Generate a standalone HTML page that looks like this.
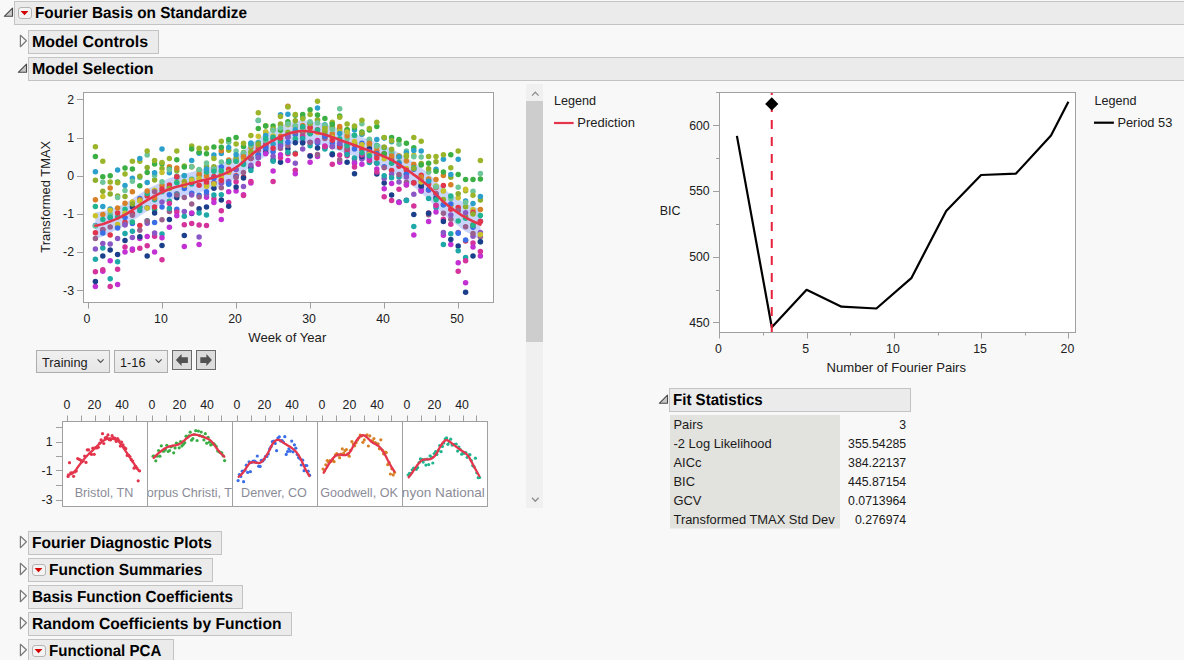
<!DOCTYPE html>
<html><head><meta charset="utf-8"><title>Fourier Basis on Standardize</title>
<style>html,body{margin:0;padding:0;background:#f8f8f8;overflow:hidden;width:1184px;height:660px} svg{display:block}</style>
</head><body>
<svg width="1184" height="660" viewBox="0 0 1184 660" font-family="'Liberation Sans', Arial, sans-serif">
<rect width="1184" height="660" fill="#f8f8f8"/>
<defs>
<clipPath id="pclip"><rect x="84" y="93" width="409" height="209"/></clipPath>
<linearGradient id="cg" x1="0" y1="0" x2="0" y2="1"><stop offset="0" stop-color="#f0f0f0"/><stop offset="1" stop-color="#e6e6e6"/></linearGradient>
</defs>
<rect x="14.5" y="1.5" width="1171" height="23" fill="#ebebeb" stroke="#c3c3c3"/>
<path d="M4.300000000000001 16.3 L12.5 8.1 L12.5 16.3 Z" fill="#c8c8c8" stroke="#4a4a4a" stroke-width="1.1" stroke-linejoin="round"/>
<rect x="18.5" y="7.5" width="13" height="11" rx="2.5" fill="#f3f3f3" stroke="#b4b4b4"/>
<path d="M20.6 11 L28.4 11 L24.5 15.2 Z" fill="#d40000"/>
<text x="35" y="18" font-size="16" font-weight="bold" fill="#000" text-rendering="geometricPrecision" textLength="212" lengthAdjust="spacingAndGlyphs">Fourier Basis on Standardize</text>
<rect x="28.5" y="30.5" width="130" height="23" fill="#ebebeb" stroke="#c3c3c3"/>
<path d="M20.4 35.3 L26.4 40.8 L20.4 46.7 Z" fill="#f8f8f8" stroke="#7a7a7a" stroke-width="1.2" stroke-linejoin="round"/>
<text x="32" y="47" font-size="16" font-weight="bold" fill="#000" text-rendering="geometricPrecision" textLength="116" lengthAdjust="spacingAndGlyphs">Model Controls</text>
<rect x="28.5" y="57.5" width="1157" height="23" fill="#ebebeb" stroke="#c3c3c3"/>
<path d="M18.3 72.3 L26.5 64.1 L26.5 72.3 Z" fill="#c8c8c8" stroke="#4a4a4a" stroke-width="1.1" stroke-linejoin="round"/>
<text x="32" y="74" font-size="16" font-weight="bold" fill="#000" text-rendering="geometricPrecision" textLength="121.6" lengthAdjust="spacingAndGlyphs">Model Selection</text>
<rect x="83.5" y="92.5" width="410" height="210" fill="#fff" stroke="#a0a0a0"/>
<line x1="77" y1="99.5" x2="83" y2="99.5" stroke="#a0a0a0"/>
<text x="74" y="103.6" font-size="12.3" text-anchor="end" fill="#202020">2</text>
<line x1="77" y1="138.5" x2="83" y2="138.5" stroke="#a0a0a0"/>
<text x="74" y="141.8" font-size="12.3" text-anchor="end" fill="#202020">1</text>
<line x1="77" y1="176.5" x2="83" y2="176.5" stroke="#a0a0a0"/>
<text x="74" y="180.0" font-size="12.3" text-anchor="end" fill="#202020">0</text>
<line x1="77" y1="214.5" x2="83" y2="214.5" stroke="#a0a0a0"/>
<text x="74" y="218.2" font-size="12.3" text-anchor="end" fill="#202020">-1</text>
<line x1="77" y1="252.5" x2="83" y2="252.5" stroke="#a0a0a0"/>
<text x="74" y="256.4" font-size="12.3" text-anchor="end" fill="#202020">-2</text>
<line x1="77" y1="290.5" x2="83" y2="290.5" stroke="#a0a0a0"/>
<text x="74" y="294.6" font-size="12.3" text-anchor="end" fill="#202020">-3</text>
<line x1="88.5" y1="303" x2="88.5" y2="308.5" stroke="#a0a0a0"/>
<text x="86.9" y="322.8" font-size="12.3" text-anchor="middle" fill="#202020">0</text>
<line x1="162.5" y1="303" x2="162.5" y2="308.5" stroke="#a0a0a0"/>
<text x="160.9" y="322.8" font-size="12.3" text-anchor="middle" fill="#202020">10</text>
<line x1="236.5" y1="303" x2="236.5" y2="308.5" stroke="#a0a0a0"/>
<text x="235.0" y="322.8" font-size="12.3" text-anchor="middle" fill="#202020">20</text>
<line x1="310.5" y1="303" x2="310.5" y2="308.5" stroke="#a0a0a0"/>
<text x="309.0" y="322.8" font-size="12.3" text-anchor="middle" fill="#202020">30</text>
<line x1="384.5" y1="303" x2="384.5" y2="308.5" stroke="#a0a0a0"/>
<text x="383.1" y="322.8" font-size="12.3" text-anchor="middle" fill="#202020">40</text>
<line x1="458.5" y1="303" x2="458.5" y2="308.5" stroke="#a0a0a0"/>
<text x="457.1" y="322.8" font-size="12.3" text-anchor="middle" fill="#202020">50</text>
<text x="287.3" y="341.8" font-size="13.15" text-anchor="middle" fill="#202020">Week of Year</text>
<text transform="translate(50.1 196.8) rotate(-90)" font-size="12.9" text-anchor="middle" fill="#202020">Transformed TMAX</text>
<g clip-path="url(#pclip)">
<path d="M95.4 212.4 L99.1 211.8 L102.8 211.2 L106.5 210.5 L110.2 209.3 L113.9 208.1 L117.6 206.8 L121.3 205.2 L125.0 203.6 L128.7 201.2 L132.4 198.7 L136.1 196.3 L139.8 193.9 L143.5 191.5 L147.2 189.1 L150.9 187.2 L154.6 185.4 L158.3 183.5 L162.0 181.7 L165.7 179.8 L169.4 178.0 L173.1 177.0 L176.8 176.0 L180.6 175.0 L184.3 174.1 L188.0 173.1 L191.7 172.1 L195.4 171.1 L199.1 170.1 L202.8 169.1 L206.5 168.1 L210.2 167.1 L213.9 166.1 L217.6 165.0 L221.3 163.9 L225.0 161.9 L228.7 160.0 L232.4 158.1 L236.1 156.2 L239.8 153.4 L243.5 150.3 L247.2 147.2 L250.9 144.1 L254.6 141.3 L258.3 138.8 L262.0 136.3 L265.7 133.8 L269.4 131.4 L273.1 129.7 L276.8 127.9 L280.5 126.1 L284.2 124.4 L287.9 122.8 L291.6 122.2 L295.3 121.5 L299.0 120.8 L302.7 120.1 L306.4 120.4 L310.1 121.0 L313.8 121.6 L317.5 122.2 L321.2 122.7 L324.9 123.8 L328.6 125.1 L332.3 126.3 L336.0 127.6 L339.7 128.9 L343.4 130.2 L347.1 131.5 L350.8 132.9 L354.5 134.2 L358.2 135.6 L361.9 137.0 L365.6 138.3 L369.4 139.7 L373.1 141.0 L376.8 142.6 L380.5 144.2 L384.2 145.8 L387.9 147.3 L391.6 148.7 L395.3 150.8 L399.0 153.1 L402.7 155.3 L406.4 157.6 L410.1 159.9 L413.8 162.4 L417.5 165.1 L421.2 167.8 L424.9 170.5 L428.6 173.4 L432.3 177.2 L436.0 181.0 L439.7 184.9 L443.4 188.7 L447.1 191.4 L450.8 194.1 L454.5 196.6 L458.2 199.0 L461.9 201.4 L465.6 203.1 L469.3 204.7 L473.0 206.2 L476.7 207.8 L480.4 209.3 L480.4 239.9 L476.7 237.8 L473.0 235.6 L469.3 233.5 L465.6 231.4 L461.9 229.1 L458.2 226.1 L454.5 223.1 L450.8 220.1 L447.1 217.4 L443.4 214.7 L439.7 210.8 L436.0 207.0 L432.3 203.2 L428.6 199.4 L424.9 196.2 L421.2 193.1 L417.5 190.1 L413.8 187.1 L410.1 184.2 L406.4 181.7 L402.7 179.1 L399.0 176.5 L395.3 173.9 L391.6 171.5 L387.9 169.7 L384.2 168.0 L380.5 166.4 L376.8 164.8 L373.1 163.2 L369.4 161.8 L365.6 160.5 L361.9 159.1 L358.2 157.7 L354.5 156.4 L350.8 155.0 L347.1 153.7 L343.4 152.4 L339.7 151.1 L336.0 149.8 L332.3 148.5 L328.6 147.2 L324.9 145.9 L321.2 144.9 L317.5 144.3 L313.8 143.7 L310.1 143.1 L306.4 142.6 L302.7 142.2 L299.0 142.9 L295.3 143.6 L291.6 144.3 L287.9 145.0 L284.2 146.5 L280.5 148.3 L276.8 150.1 L273.1 151.8 L269.4 153.6 L265.7 155.9 L262.0 158.5 L258.3 161.0 L254.6 163.5 L250.9 166.2 L247.2 169.3 L243.5 172.4 L239.8 175.5 L236.1 178.4 L232.4 180.3 L228.7 182.2 L225.0 184.1 L221.3 186.0 L217.6 187.2 L213.9 188.2 L210.2 189.2 L206.5 190.2 L202.8 191.2 L199.1 192.3 L195.4 193.3 L191.7 194.3 L188.0 195.2 L184.3 196.2 L180.6 197.2 L176.8 198.2 L173.1 199.2 L169.4 200.1 L165.7 202.0 L162.0 203.8 L158.3 205.7 L154.6 207.5 L150.9 209.4 L147.2 211.2 L143.5 213.6 L139.8 216.1 L136.1 218.5 L132.4 220.9 L128.7 223.3 L125.0 225.7 L121.3 227.4 L117.6 229.0 L113.9 231.0 L110.2 233.0 L106.5 235.0 L102.8 236.4 L99.1 237.8 L95.4 239.1 Z" fill="#c9d5fb"/>
<circle cx="206.5" cy="184.0" r="2.75" fill="#9a5f8c"/>
<circle cx="184.3" cy="197.6" r="2.75" fill="#9a5f8c"/>
<circle cx="102.8" cy="271.2" r="2.75" fill="#c331d4"/>
<circle cx="332.3" cy="146.8" r="2.75" fill="#9a5f8c"/>
<circle cx="206.5" cy="197.2" r="2.75" fill="#c331d4"/>
<circle cx="102.8" cy="214.4" r="2.75" fill="#d88028"/>
<circle cx="250.9" cy="135.6" r="2.75" fill="#9bb52a"/>
<circle cx="184.3" cy="181.4" r="2.75" fill="#8fae2b"/>
<circle cx="302.7" cy="116.9" r="2.75" fill="#8fae2b"/>
<circle cx="347.1" cy="152.8" r="2.75" fill="#c331d4"/>
<circle cx="391.6" cy="153.6" r="2.75" fill="#3a6ee6"/>
<circle cx="399.0" cy="140.8" r="2.75" fill="#9bb52a"/>
<circle cx="265.7" cy="150.1" r="2.75" fill="#d4339c"/>
<circle cx="465.6" cy="216.8" r="2.75" fill="#d88028"/>
<circle cx="391.6" cy="200.5" r="2.75" fill="#d4339c"/>
<circle cx="450.8" cy="198.7" r="2.75" fill="#6dc59a"/>
<circle cx="236.1" cy="158.3" r="2.75" fill="#8fae2b"/>
<circle cx="376.8" cy="173.9" r="2.75" fill="#1b3f8a"/>
<circle cx="369.4" cy="148.1" r="2.75" fill="#e0354c"/>
<circle cx="221.3" cy="210.7" r="2.75" fill="#d4339c"/>
<circle cx="450.8" cy="177.3" r="2.75" fill="#8fae2b"/>
<circle cx="361.9" cy="123.8" r="2.75" fill="#6dc59a"/>
<circle cx="273.1" cy="138.2" r="2.75" fill="#8fae2b"/>
<circle cx="258.3" cy="164.2" r="2.75" fill="#c331d4"/>
<circle cx="339.7" cy="147.5" r="2.75" fill="#1ea8a8"/>
<circle cx="465.6" cy="206.7" r="2.75" fill="#8fae2b"/>
<circle cx="243.5" cy="186.4" r="2.75" fill="#8a58c6"/>
<circle cx="354.5" cy="130.1" r="2.75" fill="#2ba0cb"/>
<circle cx="184.3" cy="246.4" r="2.75" fill="#c331d4"/>
<circle cx="436.0" cy="197.9" r="2.75" fill="#1b3f8a"/>
<circle cx="465.6" cy="190.8" r="2.75" fill="#9bb52a"/>
<circle cx="250.9" cy="158.1" r="2.75" fill="#3a6ee6"/>
<circle cx="125.0" cy="174.0" r="2.75" fill="#9bb52a"/>
<circle cx="310.1" cy="123.6" r="2.75" fill="#2ba0cb"/>
<circle cx="310.1" cy="162.3" r="2.75" fill="#c331d4"/>
<circle cx="436.0" cy="207.7" r="2.75" fill="#1ea8a8"/>
<circle cx="206.5" cy="207.1" r="2.75" fill="#1b3f8a"/>
<circle cx="391.6" cy="137.5" r="2.75" fill="#3baf44"/>
<circle cx="317.5" cy="119.9" r="2.75" fill="#d88028"/>
<circle cx="139.8" cy="177.5" r="2.75" fill="#6dc59a"/>
<circle cx="228.7" cy="162.3" r="2.75" fill="#8fae2b"/>
<circle cx="117.6" cy="261.7" r="2.75" fill="#1ea8a8"/>
<circle cx="132.4" cy="250.2" r="2.75" fill="#d4339c"/>
<circle cx="450.8" cy="209.2" r="2.75" fill="#e0354c"/>
<circle cx="265.7" cy="145.1" r="2.75" fill="#d88028"/>
<circle cx="184.3" cy="185.3" r="2.75" fill="#22b48f"/>
<circle cx="154.6" cy="190.3" r="2.75" fill="#c8c02c"/>
<circle cx="280.5" cy="125.2" r="2.75" fill="#c8c02c"/>
<circle cx="384.2" cy="154.5" r="2.75" fill="#d88028"/>
<circle cx="169.4" cy="201.2" r="2.75" fill="#22b48f"/>
<circle cx="458.2" cy="209.9" r="2.75" fill="#d88028"/>
<circle cx="332.3" cy="154.8" r="2.75" fill="#c331d4"/>
<circle cx="391.6" cy="157.3" r="2.75" fill="#c8c02c"/>
<circle cx="399.0" cy="144.3" r="2.75" fill="#6dc59a"/>
<circle cx="287.9" cy="114.3" r="2.75" fill="#2ba0cb"/>
<circle cx="443.4" cy="204.8" r="2.75" fill="#22b48f"/>
<circle cx="384.2" cy="147.7" r="2.75" fill="#22b48f"/>
<circle cx="473.0" cy="191.2" r="2.75" fill="#6dc59a"/>
<circle cx="206.5" cy="175.9" r="2.75" fill="#d88028"/>
<circle cx="265.7" cy="148.3" r="2.75" fill="#1ea8a8"/>
<circle cx="302.7" cy="130.7" r="2.75" fill="#3a6ee6"/>
<circle cx="473.0" cy="209.7" r="2.75" fill="#c8c02c"/>
<circle cx="421.2" cy="175.2" r="2.75" fill="#e0354c"/>
<circle cx="184.3" cy="224.8" r="2.75" fill="#d4339c"/>
<circle cx="287.9" cy="153.8" r="2.75" fill="#d4339c"/>
<circle cx="391.6" cy="183.4" r="2.75" fill="#c331d4"/>
<circle cx="236.1" cy="150.9" r="2.75" fill="#6dc59a"/>
<circle cx="280.5" cy="162.3" r="2.75" fill="#1b3f8a"/>
<circle cx="221.3" cy="162.1" r="2.75" fill="#6dc59a"/>
<circle cx="132.4" cy="213.5" r="2.75" fill="#e0354c"/>
<circle cx="399.0" cy="139.4" r="2.75" fill="#3baf44"/>
<circle cx="458.2" cy="220.9" r="2.75" fill="#22b48f"/>
<circle cx="221.3" cy="167.0" r="2.75" fill="#3a6ee6"/>
<circle cx="102.8" cy="248.0" r="2.75" fill="#1ea8a8"/>
<circle cx="147.2" cy="155.0" r="2.75" fill="#6dc59a"/>
<circle cx="361.9" cy="149.5" r="2.75" fill="#e0354c"/>
<circle cx="169.4" cy="158.5" r="2.75" fill="#9bb52a"/>
<circle cx="406.4" cy="150.9" r="2.75" fill="#6dc59a"/>
<circle cx="354.5" cy="135.6" r="2.75" fill="#6dc59a"/>
<circle cx="250.9" cy="147.3" r="2.75" fill="#d88028"/>
<circle cx="480.4" cy="236.7" r="2.75" fill="#9a5f8c"/>
<circle cx="236.1" cy="169.4" r="2.75" fill="#1ea8a8"/>
<circle cx="125.0" cy="233.5" r="2.75" fill="#1ea8a8"/>
<circle cx="317.5" cy="143.3" r="2.75" fill="#3a6ee6"/>
<circle cx="139.8" cy="161.3" r="2.75" fill="#9bb52a"/>
<circle cx="339.7" cy="128.8" r="2.75" fill="#8fae2b"/>
<circle cx="302.7" cy="142.1" r="2.75" fill="#c331d4"/>
<circle cx="369.4" cy="162.4" r="2.75" fill="#1ea8a8"/>
<circle cx="191.7" cy="193.3" r="2.75" fill="#3a6ee6"/>
<circle cx="436.0" cy="193.9" r="2.75" fill="#3a6ee6"/>
<circle cx="317.5" cy="132.4" r="2.75" fill="#c8c02c"/>
<circle cx="117.6" cy="195.9" r="2.75" fill="#8fae2b"/>
<circle cx="399.0" cy="162.4" r="2.75" fill="#22b48f"/>
<circle cx="354.5" cy="127.4" r="2.75" fill="#3baf44"/>
<circle cx="421.2" cy="190.9" r="2.75" fill="#1ea8a8"/>
<circle cx="250.9" cy="145.8" r="2.75" fill="#6dc59a"/>
<circle cx="369.4" cy="153.1" r="2.75" fill="#8a58c6"/>
<circle cx="125.0" cy="240.6" r="2.75" fill="#1b3f8a"/>
<circle cx="184.3" cy="188.5" r="2.75" fill="#3a6ee6"/>
<circle cx="191.7" cy="166.7" r="2.75" fill="#8fae2b"/>
<circle cx="295.3" cy="170.3" r="2.75" fill="#d4339c"/>
<circle cx="176.8" cy="209.3" r="2.75" fill="#3a6ee6"/>
<circle cx="295.3" cy="133.5" r="2.75" fill="#c8c02c"/>
<circle cx="421.2" cy="185.0" r="2.75" fill="#3a6ee6"/>
<circle cx="421.2" cy="180.5" r="2.75" fill="#9a5f8c"/>
<circle cx="295.3" cy="134.5" r="2.75" fill="#3a6ee6"/>
<circle cx="465.6" cy="179.5" r="2.75" fill="#3baf44"/>
<circle cx="169.4" cy="211.4" r="2.75" fill="#9a5f8c"/>
<circle cx="213.9" cy="154.9" r="2.75" fill="#2ba0cb"/>
<circle cx="458.2" cy="197.7" r="2.75" fill="#c8c02c"/>
<circle cx="154.6" cy="199.8" r="2.75" fill="#1ea8a8"/>
<circle cx="117.6" cy="227.0" r="2.75" fill="#9a5f8c"/>
<circle cx="273.1" cy="144.0" r="2.75" fill="#2ba0cb"/>
<circle cx="339.7" cy="116.0" r="2.75" fill="#3baf44"/>
<circle cx="206.5" cy="153.7" r="2.75" fill="#3baf44"/>
<circle cx="228.7" cy="202.5" r="2.75" fill="#d4339c"/>
<circle cx="154.6" cy="236.2" r="2.75" fill="#d4339c"/>
<circle cx="354.5" cy="126.0" r="2.75" fill="#9bb52a"/>
<circle cx="406.4" cy="200.3" r="2.75" fill="#1b3f8a"/>
<circle cx="110.2" cy="208.9" r="2.75" fill="#2ba0cb"/>
<circle cx="287.9" cy="148.7" r="2.75" fill="#1b3f8a"/>
<circle cx="443.4" cy="175.6" r="2.75" fill="#d88028"/>
<circle cx="458.2" cy="246.0" r="2.75" fill="#1b3f8a"/>
<circle cx="317.5" cy="120.1" r="2.75" fill="#8fae2b"/>
<circle cx="406.4" cy="200.5" r="2.75" fill="#1ea8a8"/>
<circle cx="213.9" cy="198.9" r="2.75" fill="#d4339c"/>
<circle cx="250.9" cy="182.9" r="2.75" fill="#c331d4"/>
<circle cx="310.1" cy="142.3" r="2.75" fill="#8a58c6"/>
<circle cx="110.2" cy="235.1" r="2.75" fill="#e0354c"/>
<circle cx="199.1" cy="244.5" r="2.75" fill="#c331d4"/>
<circle cx="110.2" cy="175.7" r="2.75" fill="#3baf44"/>
<circle cx="347.1" cy="152.1" r="2.75" fill="#8a58c6"/>
<circle cx="147.2" cy="245.7" r="2.75" fill="#d4339c"/>
<circle cx="162.0" cy="191.8" r="2.75" fill="#22b48f"/>
<circle cx="162.0" cy="185.5" r="2.75" fill="#d88028"/>
<circle cx="162.0" cy="163.8" r="2.75" fill="#3baf44"/>
<circle cx="184.3" cy="175.4" r="2.75" fill="#6dc59a"/>
<circle cx="413.8" cy="182.5" r="2.75" fill="#9a5f8c"/>
<circle cx="384.2" cy="182.9" r="2.75" fill="#1b3f8a"/>
<circle cx="302.7" cy="133.9" r="2.75" fill="#c8c02c"/>
<circle cx="473.0" cy="255.9" r="2.75" fill="#1b3f8a"/>
<circle cx="125.0" cy="203.2" r="2.75" fill="#d88028"/>
<circle cx="443.4" cy="159.2" r="2.75" fill="#2ba0cb"/>
<circle cx="347.1" cy="162.3" r="2.75" fill="#1b3f8a"/>
<circle cx="206.5" cy="166.4" r="2.75" fill="#8fae2b"/>
<circle cx="221.3" cy="153.6" r="2.75" fill="#2ba0cb"/>
<circle cx="139.8" cy="238.6" r="2.75" fill="#c331d4"/>
<circle cx="287.9" cy="132.2" r="2.75" fill="#8fae2b"/>
<circle cx="465.6" cy="226.7" r="2.75" fill="#9a5f8c"/>
<circle cx="199.1" cy="170.2" r="2.75" fill="#8fae2b"/>
<circle cx="384.2" cy="196.7" r="2.75" fill="#d4339c"/>
<circle cx="324.9" cy="147.4" r="2.75" fill="#1b3f8a"/>
<circle cx="191.7" cy="166.7" r="2.75" fill="#d88028"/>
<circle cx="295.3" cy="153.3" r="2.75" fill="#1ea8a8"/>
<circle cx="384.2" cy="188.7" r="2.75" fill="#c331d4"/>
<circle cx="191.7" cy="213.4" r="2.75" fill="#1b3f8a"/>
<circle cx="206.5" cy="148.2" r="2.75" fill="#9bb52a"/>
<circle cx="347.1" cy="129.6" r="2.75" fill="#8fae2b"/>
<circle cx="428.6" cy="190.2" r="2.75" fill="#8a58c6"/>
<circle cx="236.1" cy="160.9" r="2.75" fill="#d88028"/>
<circle cx="295.3" cy="126.3" r="2.75" fill="#d88028"/>
<circle cx="480.4" cy="221.2" r="2.75" fill="#3a6ee6"/>
<circle cx="436.0" cy="205.3" r="2.75" fill="#8a58c6"/>
<circle cx="450.8" cy="244.5" r="2.75" fill="#c331d4"/>
<circle cx="265.7" cy="131.9" r="2.75" fill="#8fae2b"/>
<circle cx="213.9" cy="166.7" r="2.75" fill="#8fae2b"/>
<circle cx="102.8" cy="219.4" r="2.75" fill="#22b48f"/>
<circle cx="391.6" cy="159.4" r="2.75" fill="#9a5f8c"/>
<circle cx="206.5" cy="194.2" r="2.75" fill="#8a58c6"/>
<circle cx="450.8" cy="184.8" r="2.75" fill="#d88028"/>
<circle cx="295.3" cy="163.2" r="2.75" fill="#8a58c6"/>
<circle cx="199.1" cy="195.3" r="2.75" fill="#3a6ee6"/>
<circle cx="354.5" cy="159.1" r="2.75" fill="#9a5f8c"/>
<circle cx="228.7" cy="184.2" r="2.75" fill="#1ea8a8"/>
<circle cx="176.8" cy="182.0" r="2.75" fill="#c8c02c"/>
<circle cx="236.1" cy="175.8" r="2.75" fill="#e0354c"/>
<circle cx="458.2" cy="150.9" r="2.75" fill="#9bb52a"/>
<circle cx="139.8" cy="198.4" r="2.75" fill="#3a6ee6"/>
<circle cx="406.4" cy="168.4" r="2.75" fill="#c8c02c"/>
<circle cx="236.1" cy="161.1" r="2.75" fill="#c8c02c"/>
<circle cx="354.5" cy="157.9" r="2.75" fill="#1ea8a8"/>
<circle cx="280.5" cy="148.6" r="2.75" fill="#9a5f8c"/>
<circle cx="347.1" cy="155.7" r="2.75" fill="#d4339c"/>
<circle cx="243.5" cy="154.3" r="2.75" fill="#2ba0cb"/>
<circle cx="206.5" cy="215.1" r="2.75" fill="#1ea8a8"/>
<circle cx="258.3" cy="147.9" r="2.75" fill="#e0354c"/>
<circle cx="473.0" cy="236.3" r="2.75" fill="#8a58c6"/>
<circle cx="295.3" cy="132.1" r="2.75" fill="#9a5f8c"/>
<circle cx="169.4" cy="187.9" r="2.75" fill="#c8c02c"/>
<circle cx="147.2" cy="255.9" r="2.75" fill="#1b3f8a"/>
<circle cx="295.3" cy="125.8" r="2.75" fill="#6dc59a"/>
<circle cx="473.0" cy="179.5" r="2.75" fill="#3baf44"/>
<circle cx="443.4" cy="235.3" r="2.75" fill="#c331d4"/>
<circle cx="310.1" cy="155.8" r="2.75" fill="#d4339c"/>
<circle cx="302.7" cy="136.0" r="2.75" fill="#d4339c"/>
<circle cx="399.0" cy="157.0" r="2.75" fill="#8fae2b"/>
<circle cx="480.4" cy="160.4" r="2.75" fill="#9bb52a"/>
<circle cx="206.5" cy="172.1" r="2.75" fill="#22b48f"/>
<circle cx="280.5" cy="157.8" r="2.75" fill="#d4339c"/>
<circle cx="125.0" cy="222.3" r="2.75" fill="#e0354c"/>
<circle cx="125.0" cy="224.3" r="2.75" fill="#9a5f8c"/>
<circle cx="280.5" cy="114.7" r="2.75" fill="#2ba0cb"/>
<circle cx="413.8" cy="169.2" r="2.75" fill="#3a6ee6"/>
<circle cx="154.6" cy="164.0" r="2.75" fill="#3baf44"/>
<circle cx="132.4" cy="237.6" r="2.75" fill="#8a58c6"/>
<circle cx="317.5" cy="156.6" r="2.75" fill="#c331d4"/>
<circle cx="110.2" cy="214.2" r="2.75" fill="#6dc59a"/>
<circle cx="473.0" cy="227.2" r="2.75" fill="#3a6ee6"/>
<circle cx="95.4" cy="259.3" r="2.75" fill="#1ea8a8"/>
<circle cx="139.8" cy="210.5" r="2.75" fill="#1ea8a8"/>
<circle cx="354.5" cy="143.0" r="2.75" fill="#d88028"/>
<circle cx="199.1" cy="185.2" r="2.75" fill="#e0354c"/>
<circle cx="369.4" cy="153.9" r="2.75" fill="#9a5f8c"/>
<circle cx="324.9" cy="127.1" r="2.75" fill="#d88028"/>
<circle cx="384.2" cy="178.6" r="2.75" fill="#8a58c6"/>
<circle cx="199.1" cy="175.5" r="2.75" fill="#22b48f"/>
<circle cx="436.0" cy="187.5" r="2.75" fill="#e0354c"/>
<circle cx="473.0" cy="243.1" r="2.75" fill="#d4339c"/>
<circle cx="287.9" cy="160.4" r="2.75" fill="#c331d4"/>
<circle cx="347.1" cy="138.4" r="2.75" fill="#6dc59a"/>
<circle cx="287.9" cy="137.0" r="2.75" fill="#e0354c"/>
<circle cx="147.2" cy="196.1" r="2.75" fill="#e0354c"/>
<circle cx="250.9" cy="143.7" r="2.75" fill="#3baf44"/>
<circle cx="369.4" cy="144.4" r="2.75" fill="#8fae2b"/>
<circle cx="125.0" cy="185.5" r="2.75" fill="#2ba0cb"/>
<circle cx="199.1" cy="197.0" r="2.75" fill="#9a5f8c"/>
<circle cx="421.2" cy="189.4" r="2.75" fill="#d4339c"/>
<circle cx="265.7" cy="152.8" r="2.75" fill="#1b3f8a"/>
<circle cx="176.8" cy="197.7" r="2.75" fill="#1b3f8a"/>
<circle cx="295.3" cy="120.7" r="2.75" fill="#8fae2b"/>
<circle cx="428.6" cy="212.9" r="2.75" fill="#d4339c"/>
<circle cx="384.2" cy="153.7" r="2.75" fill="#e0354c"/>
<circle cx="428.6" cy="184.1" r="2.75" fill="#e0354c"/>
<circle cx="250.9" cy="181.4" r="2.75" fill="#d4339c"/>
<circle cx="162.0" cy="245.5" r="2.75" fill="#1b3f8a"/>
<circle cx="354.5" cy="135.2" r="2.75" fill="#22b48f"/>
<circle cx="228.7" cy="150.2" r="2.75" fill="#9bb52a"/>
<circle cx="406.4" cy="182.3" r="2.75" fill="#9a5f8c"/>
<circle cx="191.7" cy="184.1" r="2.75" fill="#1ea8a8"/>
<circle cx="206.5" cy="186.2" r="2.75" fill="#c8c02c"/>
<circle cx="221.3" cy="187.7" r="2.75" fill="#9a5f8c"/>
<circle cx="176.8" cy="170.7" r="2.75" fill="#8fae2b"/>
<circle cx="406.4" cy="152.7" r="2.75" fill="#2ba0cb"/>
<circle cx="176.8" cy="168.0" r="2.75" fill="#d88028"/>
<circle cx="443.4" cy="204.7" r="2.75" fill="#3a6ee6"/>
<circle cx="243.5" cy="152.6" r="2.75" fill="#8fae2b"/>
<circle cx="317.5" cy="129.8" r="2.75" fill="#e0354c"/>
<circle cx="287.9" cy="106.2" r="2.75" fill="#d88028"/>
<circle cx="480.4" cy="232.5" r="2.75" fill="#8a58c6"/>
<circle cx="199.1" cy="173.9" r="2.75" fill="#d88028"/>
<circle cx="250.9" cy="167.5" r="2.75" fill="#1b3f8a"/>
<circle cx="310.1" cy="109.7" r="2.75" fill="#3baf44"/>
<circle cx="465.6" cy="200.9" r="2.75" fill="#2ba0cb"/>
<circle cx="154.6" cy="232.9" r="2.75" fill="#8a58c6"/>
<circle cx="428.6" cy="172.1" r="2.75" fill="#c8c02c"/>
<circle cx="347.1" cy="135.8" r="2.75" fill="#d88028"/>
<circle cx="458.2" cy="159.2" r="2.75" fill="#2ba0cb"/>
<circle cx="465.6" cy="202.5" r="2.75" fill="#6dc59a"/>
<circle cx="421.2" cy="151.1" r="2.75" fill="#2ba0cb"/>
<circle cx="154.6" cy="198.0" r="2.75" fill="#d88028"/>
<circle cx="102.8" cy="176.7" r="2.75" fill="#3baf44"/>
<circle cx="273.1" cy="138.9" r="2.75" fill="#9a5f8c"/>
<circle cx="399.0" cy="166.3" r="2.75" fill="#e0354c"/>
<circle cx="480.4" cy="234.4" r="2.75" fill="#c8c02c"/>
<circle cx="162.0" cy="168.5" r="2.75" fill="#8fae2b"/>
<circle cx="361.9" cy="143.3" r="2.75" fill="#3a6ee6"/>
<circle cx="162.0" cy="234.0" r="2.75" fill="#1ea8a8"/>
<circle cx="221.3" cy="174.3" r="2.75" fill="#8fae2b"/>
<circle cx="376.8" cy="163.2" r="2.75" fill="#8a58c6"/>
<circle cx="413.8" cy="226.4" r="2.75" fill="#1ea8a8"/>
<circle cx="95.4" cy="232.8" r="2.75" fill="#e0354c"/>
<circle cx="273.1" cy="129.4" r="2.75" fill="#d88028"/>
<circle cx="243.5" cy="146.5" r="2.75" fill="#3baf44"/>
<circle cx="361.9" cy="131.9" r="2.75" fill="#3baf44"/>
<circle cx="465.6" cy="212.7" r="2.75" fill="#8a58c6"/>
<circle cx="310.1" cy="128.2" r="2.75" fill="#d88028"/>
<circle cx="250.9" cy="154.3" r="2.75" fill="#22b48f"/>
<circle cx="280.5" cy="130.2" r="2.75" fill="#3baf44"/>
<circle cx="102.8" cy="269.8" r="2.75" fill="#d4339c"/>
<circle cx="376.8" cy="155.6" r="2.75" fill="#9a5f8c"/>
<circle cx="250.9" cy="153.4" r="2.75" fill="#c8c02c"/>
<circle cx="199.1" cy="178.4" r="2.75" fill="#c8c02c"/>
<circle cx="243.5" cy="176.9" r="2.75" fill="#e0354c"/>
<circle cx="243.5" cy="194.8" r="2.75" fill="#c331d4"/>
<circle cx="421.2" cy="186.4" r="2.75" fill="#22b48f"/>
<circle cx="147.2" cy="223.2" r="2.75" fill="#8a58c6"/>
<circle cx="265.7" cy="145.6" r="2.75" fill="#e0354c"/>
<circle cx="213.9" cy="194.9" r="2.75" fill="#1ea8a8"/>
<circle cx="139.8" cy="207.3" r="2.75" fill="#8a58c6"/>
<circle cx="332.3" cy="136.5" r="2.75" fill="#22b48f"/>
<circle cx="228.7" cy="142.3" r="2.75" fill="#6dc59a"/>
<circle cx="465.6" cy="241.1" r="2.75" fill="#e0354c"/>
<circle cx="280.5" cy="144.0" r="2.75" fill="#3a6ee6"/>
<circle cx="450.8" cy="233.8" r="2.75" fill="#1ea8a8"/>
<circle cx="347.1" cy="131.8" r="2.75" fill="#2ba0cb"/>
<circle cx="324.9" cy="134.5" r="2.75" fill="#22b48f"/>
<circle cx="428.6" cy="214.8" r="2.75" fill="#9a5f8c"/>
<circle cx="332.3" cy="164.2" r="2.75" fill="#d4339c"/>
<circle cx="280.5" cy="136.3" r="2.75" fill="#d88028"/>
<circle cx="176.8" cy="193.8" r="2.75" fill="#8a58c6"/>
<circle cx="287.9" cy="145.4" r="2.75" fill="#9a5f8c"/>
<circle cx="273.1" cy="136.1" r="2.75" fill="#c8c02c"/>
<circle cx="169.4" cy="194.7" r="2.75" fill="#3a6ee6"/>
<circle cx="102.8" cy="196.5" r="2.75" fill="#c8c02c"/>
<circle cx="391.6" cy="170.4" r="2.75" fill="#e0354c"/>
<circle cx="406.4" cy="173.9" r="2.75" fill="#22b48f"/>
<circle cx="295.3" cy="115.2" r="2.75" fill="#3baf44"/>
<circle cx="406.4" cy="161.1" r="2.75" fill="#d88028"/>
<circle cx="473.0" cy="224.7" r="2.75" fill="#1ea8a8"/>
<circle cx="399.0" cy="177.1" r="2.75" fill="#1ea8a8"/>
<circle cx="147.2" cy="182.6" r="2.75" fill="#2ba0cb"/>
<circle cx="376.8" cy="126.5" r="2.75" fill="#3baf44"/>
<circle cx="169.4" cy="166.8" r="2.75" fill="#d88028"/>
<circle cx="458.2" cy="174.5" r="2.75" fill="#3baf44"/>
<circle cx="332.3" cy="122.9" r="2.75" fill="#2ba0cb"/>
<circle cx="184.3" cy="184.2" r="2.75" fill="#d88028"/>
<circle cx="280.5" cy="140.6" r="2.75" fill="#1ea8a8"/>
<circle cx="391.6" cy="152.6" r="2.75" fill="#6dc59a"/>
<circle cx="236.1" cy="176.6" r="2.75" fill="#3a6ee6"/>
<circle cx="399.0" cy="155.9" r="2.75" fill="#c8c02c"/>
<circle cx="191.7" cy="182.2" r="2.75" fill="#e0354c"/>
<circle cx="324.9" cy="131.0" r="2.75" fill="#c8c02c"/>
<circle cx="258.3" cy="155.3" r="2.75" fill="#1b3f8a"/>
<circle cx="480.4" cy="241.8" r="2.75" fill="#1ea8a8"/>
<circle cx="369.4" cy="139.9" r="2.75" fill="#2ba0cb"/>
<circle cx="199.1" cy="169.5" r="2.75" fill="#6dc59a"/>
<circle cx="228.7" cy="181.4" r="2.75" fill="#8a58c6"/>
<circle cx="125.0" cy="196.6" r="2.75" fill="#8fae2b"/>
<circle cx="428.6" cy="198.4" r="2.75" fill="#1ea8a8"/>
<circle cx="332.3" cy="153.4" r="2.75" fill="#1ea8a8"/>
<circle cx="332.3" cy="127.2" r="2.75" fill="#8fae2b"/>
<circle cx="421.2" cy="163.4" r="2.75" fill="#8fae2b"/>
<circle cx="295.3" cy="129.8" r="2.75" fill="#2ba0cb"/>
<circle cx="184.3" cy="166.1" r="2.75" fill="#9bb52a"/>
<circle cx="243.5" cy="143.2" r="2.75" fill="#9bb52a"/>
<circle cx="436.0" cy="169.2" r="2.75" fill="#2ba0cb"/>
<circle cx="117.6" cy="217.1" r="2.75" fill="#22b48f"/>
<circle cx="413.8" cy="234.9" r="2.75" fill="#c331d4"/>
<circle cx="213.9" cy="202.4" r="2.75" fill="#c331d4"/>
<circle cx="436.0" cy="161.7" r="2.75" fill="#8fae2b"/>
<circle cx="287.9" cy="152.3" r="2.75" fill="#1ea8a8"/>
<circle cx="369.4" cy="139.3" r="2.75" fill="#6dc59a"/>
<circle cx="117.6" cy="170.0" r="2.75" fill="#2ba0cb"/>
<circle cx="154.6" cy="180.1" r="2.75" fill="#8fae2b"/>
<circle cx="102.8" cy="230.1" r="2.75" fill="#e0354c"/>
<circle cx="406.4" cy="185.1" r="2.75" fill="#d4339c"/>
<circle cx="361.9" cy="134.1" r="2.75" fill="#d88028"/>
<circle cx="176.8" cy="194.2" r="2.75" fill="#1ea8a8"/>
<circle cx="258.3" cy="120.5" r="2.75" fill="#2ba0cb"/>
<circle cx="369.4" cy="149.0" r="2.75" fill="#1b3f8a"/>
<circle cx="324.9" cy="136.1" r="2.75" fill="#8a58c6"/>
<circle cx="369.4" cy="151.2" r="2.75" fill="#3a6ee6"/>
<circle cx="199.1" cy="153.2" r="2.75" fill="#2ba0cb"/>
<circle cx="324.9" cy="131.5" r="2.75" fill="#8fae2b"/>
<circle cx="480.4" cy="200.0" r="2.75" fill="#8fae2b"/>
<circle cx="236.1" cy="181.8" r="2.75" fill="#d4339c"/>
<circle cx="258.3" cy="142.7" r="2.75" fill="#22b48f"/>
<circle cx="324.9" cy="137.0" r="2.75" fill="#e0354c"/>
<circle cx="347.1" cy="149.3" r="2.75" fill="#e0354c"/>
<circle cx="258.3" cy="154.4" r="2.75" fill="#3a6ee6"/>
<circle cx="384.2" cy="137.8" r="2.75" fill="#6dc59a"/>
<circle cx="413.8" cy="206.0" r="2.75" fill="#d4339c"/>
<circle cx="436.0" cy="199.7" r="2.75" fill="#22b48f"/>
<circle cx="221.3" cy="150.8" r="2.75" fill="#d88028"/>
<circle cx="154.6" cy="252.1" r="2.75" fill="#c331d4"/>
<circle cx="332.3" cy="122.2" r="2.75" fill="#9bb52a"/>
<circle cx="376.8" cy="153.7" r="2.75" fill="#8fae2b"/>
<circle cx="376.8" cy="147.3" r="2.75" fill="#c8c02c"/>
<circle cx="132.4" cy="178.3" r="2.75" fill="#2ba0cb"/>
<circle cx="473.0" cy="212.2" r="2.75" fill="#e0354c"/>
<circle cx="147.2" cy="236.4" r="2.75" fill="#c331d4"/>
<circle cx="399.0" cy="189.2" r="2.75" fill="#d4339c"/>
<circle cx="473.0" cy="233.4" r="2.75" fill="#9a5f8c"/>
<circle cx="95.4" cy="206.4" r="2.75" fill="#22b48f"/>
<circle cx="399.0" cy="163.8" r="2.75" fill="#3a6ee6"/>
<circle cx="221.3" cy="194.7" r="2.75" fill="#1ea8a8"/>
<circle cx="213.9" cy="147.0" r="2.75" fill="#3baf44"/>
<circle cx="95.4" cy="171.8" r="2.75" fill="#2ba0cb"/>
<circle cx="369.4" cy="160.4" r="2.75" fill="#d4339c"/>
<circle cx="428.6" cy="172.1" r="2.75" fill="#6dc59a"/>
<circle cx="295.3" cy="114.6" r="2.75" fill="#9bb52a"/>
<circle cx="302.7" cy="149.0" r="2.75" fill="#8a58c6"/>
<circle cx="117.6" cy="224.4" r="2.75" fill="#c8c02c"/>
<circle cx="162.0" cy="207.0" r="2.75" fill="#3a6ee6"/>
<circle cx="391.6" cy="141.7" r="2.75" fill="#2ba0cb"/>
<circle cx="273.1" cy="181.4" r="2.75" fill="#d4339c"/>
<circle cx="421.2" cy="157.1" r="2.75" fill="#6dc59a"/>
<circle cx="184.3" cy="216.3" r="2.75" fill="#1ea8a8"/>
<circle cx="302.7" cy="132.1" r="2.75" fill="#9a5f8c"/>
<circle cx="169.4" cy="203.4" r="2.75" fill="#d4339c"/>
<circle cx="147.2" cy="167.5" r="2.75" fill="#8fae2b"/>
<circle cx="258.3" cy="120.2" r="2.75" fill="#6dc59a"/>
<circle cx="450.8" cy="174.5" r="2.75" fill="#2ba0cb"/>
<circle cx="324.9" cy="124.8" r="2.75" fill="#2ba0cb"/>
<circle cx="347.1" cy="129.9" r="2.75" fill="#3baf44"/>
<circle cx="361.9" cy="134.3" r="2.75" fill="#2ba0cb"/>
<circle cx="199.1" cy="208.8" r="2.75" fill="#1b3f8a"/>
<circle cx="339.7" cy="145.6" r="2.75" fill="#1b3f8a"/>
<circle cx="176.8" cy="195.0" r="2.75" fill="#9a5f8c"/>
<circle cx="95.4" cy="271.7" r="2.75" fill="#d4339c"/>
<circle cx="236.1" cy="191.0" r="2.75" fill="#c331d4"/>
<circle cx="228.7" cy="172.3" r="2.75" fill="#9a5f8c"/>
<circle cx="176.8" cy="159.8" r="2.75" fill="#3baf44"/>
<circle cx="258.3" cy="145.5" r="2.75" fill="#d88028"/>
<circle cx="354.5" cy="144.4" r="2.75" fill="#e0354c"/>
<circle cx="473.0" cy="247.0" r="2.75" fill="#c331d4"/>
<circle cx="465.6" cy="282.7" r="2.75" fill="#c331d4"/>
<circle cx="228.7" cy="206.3" r="2.75" fill="#1b3f8a"/>
<circle cx="310.1" cy="132.8" r="2.75" fill="#c8c02c"/>
<circle cx="354.5" cy="143.5" r="2.75" fill="#8fae2b"/>
<circle cx="154.6" cy="191.8" r="2.75" fill="#9a5f8c"/>
<circle cx="436.0" cy="193.6" r="2.75" fill="#9a5f8c"/>
<circle cx="125.0" cy="224.9" r="2.75" fill="#8a58c6"/>
<circle cx="354.5" cy="162.3" r="2.75" fill="#8a58c6"/>
<circle cx="450.8" cy="154.7" r="2.75" fill="#3baf44"/>
<circle cx="332.3" cy="143.0" r="2.75" fill="#3a6ee6"/>
<circle cx="95.4" cy="225.5" r="2.75" fill="#3a6ee6"/>
<circle cx="110.2" cy="181.9" r="2.75" fill="#9bb52a"/>
<circle cx="339.7" cy="162.3" r="2.75" fill="#c331d4"/>
<circle cx="480.4" cy="221.4" r="2.75" fill="#e0354c"/>
<circle cx="421.2" cy="165.0" r="2.75" fill="#3baf44"/>
<circle cx="332.3" cy="133.7" r="2.75" fill="#d88028"/>
<circle cx="176.8" cy="212.1" r="2.75" fill="#d4339c"/>
<circle cx="473.0" cy="203.4" r="2.75" fill="#2ba0cb"/>
<circle cx="406.4" cy="170.3" r="2.75" fill="#e0354c"/>
<circle cx="450.8" cy="239.4" r="2.75" fill="#1b3f8a"/>
<circle cx="265.7" cy="153.7" r="2.75" fill="#c331d4"/>
<circle cx="191.7" cy="223.4" r="2.75" fill="#d4339c"/>
<circle cx="332.3" cy="137.3" r="2.75" fill="#c8c02c"/>
<circle cx="265.7" cy="144.0" r="2.75" fill="#9a5f8c"/>
<circle cx="258.3" cy="157.8" r="2.75" fill="#1ea8a8"/>
<circle cx="110.2" cy="278.8" r="2.75" fill="#1ea8a8"/>
<circle cx="384.2" cy="138.1" r="2.75" fill="#2ba0cb"/>
<circle cx="399.0" cy="202.0" r="2.75" fill="#1b3f8a"/>
<circle cx="332.3" cy="154.4" r="2.75" fill="#1b3f8a"/>
<circle cx="228.7" cy="160.0" r="2.75" fill="#d88028"/>
<circle cx="139.8" cy="236.8" r="2.75" fill="#1b3f8a"/>
<circle cx="280.5" cy="116.5" r="2.75" fill="#9bb52a"/>
<circle cx="243.5" cy="195.4" r="2.75" fill="#d4339c"/>
<circle cx="258.3" cy="144.1" r="2.75" fill="#8fae2b"/>
<circle cx="332.3" cy="129.5" r="2.75" fill="#6dc59a"/>
<circle cx="236.1" cy="161.3" r="2.75" fill="#22b48f"/>
<circle cx="339.7" cy="138.7" r="2.75" fill="#22b48f"/>
<circle cx="139.8" cy="199.7" r="2.75" fill="#d88028"/>
<circle cx="302.7" cy="128.6" r="2.75" fill="#e0354c"/>
<circle cx="154.6" cy="175.6" r="2.75" fill="#6dc59a"/>
<circle cx="273.1" cy="151.7" r="2.75" fill="#3a6ee6"/>
<circle cx="206.5" cy="163.0" r="2.75" fill="#6dc59a"/>
<circle cx="339.7" cy="117.3" r="2.75" fill="#9bb52a"/>
<circle cx="236.1" cy="169.6" r="2.75" fill="#8a58c6"/>
<circle cx="110.2" cy="193.9" r="2.75" fill="#8fae2b"/>
<circle cx="287.9" cy="135.1" r="2.75" fill="#22b48f"/>
<circle cx="110.2" cy="217.8" r="2.75" fill="#3a6ee6"/>
<circle cx="236.1" cy="177.6" r="2.75" fill="#9a5f8c"/>
<circle cx="139.8" cy="225.5" r="2.75" fill="#e0354c"/>
<circle cx="406.4" cy="143.2" r="2.75" fill="#3baf44"/>
<circle cx="258.3" cy="128.6" r="2.75" fill="#3baf44"/>
<circle cx="147.2" cy="220.7" r="2.75" fill="#1ea8a8"/>
<circle cx="347.1" cy="148.0" r="2.75" fill="#9a5f8c"/>
<circle cx="450.8" cy="167.7" r="2.75" fill="#9bb52a"/>
<circle cx="421.2" cy="186.8" r="2.75" fill="#8a58c6"/>
<circle cx="287.9" cy="106.9" r="2.75" fill="#9bb52a"/>
<circle cx="125.0" cy="217.6" r="2.75" fill="#3a6ee6"/>
<circle cx="480.4" cy="196.6" r="2.75" fill="#2ba0cb"/>
<circle cx="228.7" cy="183.7" r="2.75" fill="#3a6ee6"/>
<circle cx="154.6" cy="172.7" r="2.75" fill="#2ba0cb"/>
<circle cx="332.3" cy="140.2" r="2.75" fill="#e0354c"/>
<circle cx="384.2" cy="137.5" r="2.75" fill="#9bb52a"/>
<circle cx="310.1" cy="156.1" r="2.75" fill="#1b3f8a"/>
<circle cx="102.8" cy="243.6" r="2.75" fill="#8a58c6"/>
<circle cx="191.7" cy="146.0" r="2.75" fill="#9bb52a"/>
<circle cx="339.7" cy="146.9" r="2.75" fill="#e0354c"/>
<circle cx="132.4" cy="161.2" r="2.75" fill="#9bb52a"/>
<circle cx="324.9" cy="125.2" r="2.75" fill="#6dc59a"/>
<circle cx="428.6" cy="213.3" r="2.75" fill="#1b3f8a"/>
<circle cx="317.5" cy="123.0" r="2.75" fill="#6dc59a"/>
<circle cx="480.4" cy="173.5" r="2.75" fill="#6dc59a"/>
<circle cx="95.4" cy="286.5" r="2.75" fill="#c331d4"/>
<circle cx="317.5" cy="141.2" r="2.75" fill="#1ea8a8"/>
<circle cx="125.0" cy="209.3" r="2.75" fill="#22b48f"/>
<circle cx="213.9" cy="183.0" r="2.75" fill="#8a58c6"/>
<circle cx="169.4" cy="172.8" r="2.75" fill="#2ba0cb"/>
<circle cx="213.9" cy="188.3" r="2.75" fill="#1b3f8a"/>
<circle cx="280.5" cy="124.0" r="2.75" fill="#8fae2b"/>
<circle cx="339.7" cy="131.7" r="2.75" fill="#c8c02c"/>
<circle cx="95.4" cy="225.9" r="2.75" fill="#6dc59a"/>
<circle cx="243.5" cy="164.4" r="2.75" fill="#22b48f"/>
<circle cx="125.0" cy="213.2" r="2.75" fill="#c8c02c"/>
<circle cx="421.2" cy="176.9" r="2.75" fill="#d88028"/>
<circle cx="465.6" cy="292.2" r="2.75" fill="#1b3f8a"/>
<circle cx="287.9" cy="124.8" r="2.75" fill="#c8c02c"/>
<circle cx="102.8" cy="182.2" r="2.75" fill="#6dc59a"/>
<circle cx="391.6" cy="149.2" r="2.75" fill="#8fae2b"/>
<circle cx="302.7" cy="130.2" r="2.75" fill="#6dc59a"/>
<circle cx="191.7" cy="195.1" r="2.75" fill="#8a58c6"/>
<circle cx="406.4" cy="174.3" r="2.75" fill="#3a6ee6"/>
<circle cx="347.1" cy="124.1" r="2.75" fill="#9bb52a"/>
<circle cx="117.6" cy="269.3" r="2.75" fill="#d4339c"/>
<circle cx="147.2" cy="193.4" r="2.75" fill="#22b48f"/>
<circle cx="310.1" cy="127.3" r="2.75" fill="#e0354c"/>
<circle cx="376.8" cy="169.0" r="2.75" fill="#c331d4"/>
<circle cx="154.6" cy="209.8" r="2.75" fill="#22b48f"/>
<circle cx="191.7" cy="160.4" r="2.75" fill="#2ba0cb"/>
<circle cx="176.8" cy="176.1" r="2.75" fill="#6dc59a"/>
<circle cx="421.2" cy="191.0" r="2.75" fill="#c331d4"/>
<circle cx="465.6" cy="189.2" r="2.75" fill="#c8c02c"/>
<circle cx="273.1" cy="160.1" r="2.75" fill="#1b3f8a"/>
<circle cx="154.6" cy="222.6" r="2.75" fill="#3a6ee6"/>
<circle cx="450.8" cy="219.3" r="2.75" fill="#9a5f8c"/>
<circle cx="339.7" cy="126.4" r="2.75" fill="#d88028"/>
<circle cx="443.4" cy="213.3" r="2.75" fill="#9a5f8c"/>
<circle cx="339.7" cy="108.8" r="2.75" fill="#6dc59a"/>
<circle cx="191.7" cy="179.2" r="2.75" fill="#22b48f"/>
<circle cx="339.7" cy="133.5" r="2.75" fill="#2ba0cb"/>
<circle cx="162.0" cy="162.4" r="2.75" fill="#9bb52a"/>
<circle cx="147.2" cy="221.0" r="2.75" fill="#9a5f8c"/>
<circle cx="317.5" cy="107.9" r="2.75" fill="#2ba0cb"/>
<circle cx="310.1" cy="145.8" r="2.75" fill="#1ea8a8"/>
<circle cx="384.2" cy="146.9" r="2.75" fill="#8fae2b"/>
<circle cx="139.8" cy="158.5" r="2.75" fill="#2ba0cb"/>
<circle cx="324.9" cy="138.4" r="2.75" fill="#9a5f8c"/>
<circle cx="213.9" cy="169.3" r="2.75" fill="#d88028"/>
<circle cx="169.4" cy="169.0" r="2.75" fill="#3baf44"/>
<circle cx="250.9" cy="158.6" r="2.75" fill="#e0354c"/>
<circle cx="228.7" cy="139.4" r="2.75" fill="#3baf44"/>
<circle cx="221.3" cy="183.3" r="2.75" fill="#8a58c6"/>
<circle cx="102.8" cy="206.4" r="2.75" fill="#2ba0cb"/>
<circle cx="391.6" cy="155.9" r="2.75" fill="#d88028"/>
<circle cx="480.4" cy="241.8" r="2.75" fill="#1b3f8a"/>
<circle cx="287.9" cy="137.3" r="2.75" fill="#8a58c6"/>
<circle cx="287.9" cy="121.8" r="2.75" fill="#3baf44"/>
<circle cx="221.3" cy="219.6" r="2.75" fill="#c331d4"/>
<circle cx="443.4" cy="199.5" r="2.75" fill="#8fae2b"/>
<circle cx="443.4" cy="154.7" r="2.75" fill="#9bb52a"/>
<circle cx="361.9" cy="154.0" r="2.75" fill="#9a5f8c"/>
<circle cx="428.6" cy="180.5" r="2.75" fill="#22b48f"/>
<circle cx="176.8" cy="182.8" r="2.75" fill="#22b48f"/>
<circle cx="413.8" cy="164.3" r="2.75" fill="#d88028"/>
<circle cx="199.1" cy="225.0" r="2.75" fill="#d4339c"/>
<circle cx="250.9" cy="165.3" r="2.75" fill="#8a58c6"/>
<circle cx="354.5" cy="163.6" r="2.75" fill="#c331d4"/>
<circle cx="465.6" cy="218.3" r="2.75" fill="#22b48f"/>
<circle cx="147.2" cy="207.8" r="2.75" fill="#3a6ee6"/>
<circle cx="406.4" cy="176.9" r="2.75" fill="#8a58c6"/>
<circle cx="465.6" cy="257.5" r="2.75" fill="#1ea8a8"/>
<circle cx="243.5" cy="156.2" r="2.75" fill="#3a6ee6"/>
<circle cx="250.9" cy="143.0" r="2.75" fill="#2ba0cb"/>
<circle cx="443.4" cy="232.6" r="2.75" fill="#8a58c6"/>
<circle cx="125.0" cy="190.5" r="2.75" fill="#6dc59a"/>
<circle cx="102.8" cy="229.4" r="2.75" fill="#9a5f8c"/>
<circle cx="413.8" cy="214.6" r="2.75" fill="#1b3f8a"/>
<circle cx="384.2" cy="166.7" r="2.75" fill="#3a6ee6"/>
<circle cx="384.2" cy="167.8" r="2.75" fill="#9a5f8c"/>
<circle cx="154.6" cy="160.4" r="2.75" fill="#9bb52a"/>
<circle cx="265.7" cy="125.8" r="2.75" fill="#9bb52a"/>
<circle cx="125.0" cy="168.1" r="2.75" fill="#3baf44"/>
<circle cx="199.1" cy="237.0" r="2.75" fill="#8a58c6"/>
<circle cx="169.4" cy="227.3" r="2.75" fill="#c331d4"/>
<circle cx="110.2" cy="243.9" r="2.75" fill="#8a58c6"/>
<circle cx="184.3" cy="185.2" r="2.75" fill="#e0354c"/>
<circle cx="310.1" cy="114.6" r="2.75" fill="#9bb52a"/>
<circle cx="95.4" cy="180.2" r="2.75" fill="#8fae2b"/>
<circle cx="162.0" cy="237.8" r="2.75" fill="#c331d4"/>
<circle cx="206.5" cy="191.7" r="2.75" fill="#3a6ee6"/>
<circle cx="361.9" cy="164.2" r="2.75" fill="#c331d4"/>
<circle cx="169.4" cy="169.8" r="2.75" fill="#6dc59a"/>
<circle cx="273.1" cy="156.2" r="2.75" fill="#8a58c6"/>
<circle cx="317.5" cy="114.9" r="2.75" fill="#3baf44"/>
<circle cx="399.0" cy="202.4" r="2.75" fill="#c331d4"/>
<circle cx="147.2" cy="150.9" r="2.75" fill="#9bb52a"/>
<circle cx="273.1" cy="126.0" r="2.75" fill="#3baf44"/>
<circle cx="384.2" cy="175.7" r="2.75" fill="#1ea8a8"/>
<circle cx="391.6" cy="140.8" r="2.75" fill="#9bb52a"/>
<circle cx="243.5" cy="153.1" r="2.75" fill="#6dc59a"/>
<circle cx="317.5" cy="148.1" r="2.75" fill="#1b3f8a"/>
<circle cx="139.8" cy="185.7" r="2.75" fill="#3baf44"/>
<circle cx="302.7" cy="138.5" r="2.75" fill="#1ea8a8"/>
<circle cx="236.1" cy="187.1" r="2.75" fill="#1b3f8a"/>
<circle cx="184.3" cy="184.9" r="2.75" fill="#c8c02c"/>
<circle cx="95.4" cy="238.5" r="2.75" fill="#9a5f8c"/>
<circle cx="243.5" cy="172.5" r="2.75" fill="#9a5f8c"/>
<circle cx="443.4" cy="185.4" r="2.75" fill="#e0354c"/>
<circle cx="139.8" cy="201.0" r="2.75" fill="#c8c02c"/>
<circle cx="117.6" cy="213.0" r="2.75" fill="#e0354c"/>
<circle cx="317.5" cy="101.2" r="2.75" fill="#9bb52a"/>
<circle cx="332.3" cy="124.3" r="2.75" fill="#3baf44"/>
<circle cx="213.9" cy="176.6" r="2.75" fill="#e0354c"/>
<circle cx="117.6" cy="284.6" r="2.75" fill="#c331d4"/>
<circle cx="376.8" cy="150.4" r="2.75" fill="#d88028"/>
<circle cx="458.2" cy="193.8" r="2.75" fill="#8fae2b"/>
<circle cx="117.6" cy="197.4" r="2.75" fill="#6dc59a"/>
<circle cx="258.3" cy="150.2" r="2.75" fill="#9a5f8c"/>
<circle cx="213.9" cy="182.9" r="2.75" fill="#9a5f8c"/>
<circle cx="110.2" cy="217.3" r="2.75" fill="#22b48f"/>
<circle cx="176.8" cy="215.8" r="2.75" fill="#c331d4"/>
<circle cx="199.1" cy="212.9" r="2.75" fill="#1ea8a8"/>
<circle cx="206.5" cy="225.4" r="2.75" fill="#d4339c"/>
<circle cx="265.7" cy="140.3" r="2.75" fill="#6dc59a"/>
<circle cx="169.4" cy="208.4" r="2.75" fill="#1ea8a8"/>
<circle cx="302.7" cy="125.6" r="2.75" fill="#d88028"/>
<circle cx="176.8" cy="177.2" r="2.75" fill="#2ba0cb"/>
<circle cx="280.5" cy="154.7" r="2.75" fill="#c331d4"/>
<circle cx="480.4" cy="209.6" r="2.75" fill="#d88028"/>
<circle cx="132.4" cy="191.8" r="2.75" fill="#d88028"/>
<circle cx="406.4" cy="156.5" r="2.75" fill="#8fae2b"/>
<circle cx="361.9" cy="158.3" r="2.75" fill="#1ea8a8"/>
<circle cx="243.5" cy="163.0" r="2.75" fill="#1ea8a8"/>
<circle cx="213.9" cy="178.3" r="2.75" fill="#3a6ee6"/>
<circle cx="132.4" cy="181.3" r="2.75" fill="#6dc59a"/>
<circle cx="147.2" cy="191.1" r="2.75" fill="#d88028"/>
<circle cx="280.5" cy="141.4" r="2.75" fill="#22b48f"/>
<circle cx="125.0" cy="247.0" r="2.75" fill="#d4339c"/>
<circle cx="450.8" cy="205.4" r="2.75" fill="#c8c02c"/>
<circle cx="310.1" cy="142.4" r="2.75" fill="#9a5f8c"/>
<circle cx="265.7" cy="132.5" r="2.75" fill="#c8c02c"/>
<circle cx="458.2" cy="187.3" r="2.75" fill="#6dc59a"/>
<circle cx="110.2" cy="250.1" r="2.75" fill="#1b3f8a"/>
<circle cx="117.6" cy="238.5" r="2.75" fill="#8a58c6"/>
<circle cx="102.8" cy="191.2" r="2.75" fill="#8fae2b"/>
<circle cx="132.4" cy="215.2" r="2.75" fill="#9a5f8c"/>
<circle cx="273.1" cy="161.2" r="2.75" fill="#1ea8a8"/>
<circle cx="399.0" cy="155.9" r="2.75" fill="#d88028"/>
<circle cx="413.8" cy="147.7" r="2.75" fill="#3baf44"/>
<circle cx="250.9" cy="151.5" r="2.75" fill="#8fae2b"/>
<circle cx="110.2" cy="227.1" r="2.75" fill="#9a5f8c"/>
<circle cx="413.8" cy="167.8" r="2.75" fill="#22b48f"/>
<circle cx="154.6" cy="207.1" r="2.75" fill="#e0354c"/>
<circle cx="450.8" cy="215.0" r="2.75" fill="#8a58c6"/>
<circle cx="369.4" cy="129.9" r="2.75" fill="#3baf44"/>
<circle cx="302.7" cy="126.8" r="2.75" fill="#22b48f"/>
<circle cx="139.8" cy="230.2" r="2.75" fill="#9a5f8c"/>
<circle cx="295.3" cy="153.9" r="2.75" fill="#e0354c"/>
<circle cx="436.0" cy="171.3" r="2.75" fill="#3baf44"/>
<circle cx="213.9" cy="168.9" r="2.75" fill="#6dc59a"/>
<circle cx="191.7" cy="166.7" r="2.75" fill="#6dc59a"/>
<circle cx="443.4" cy="244.5" r="2.75" fill="#1ea8a8"/>
<circle cx="413.8" cy="194.3" r="2.75" fill="#8a58c6"/>
<circle cx="324.9" cy="145.9" r="2.75" fill="#c331d4"/>
<circle cx="361.9" cy="159.1" r="2.75" fill="#8a58c6"/>
<circle cx="191.7" cy="212.9" r="2.75" fill="#c331d4"/>
<circle cx="110.2" cy="260.8" r="2.75" fill="#c331d4"/>
<circle cx="139.8" cy="248.3" r="2.75" fill="#d4339c"/>
<circle cx="102.8" cy="232.9" r="2.75" fill="#3a6ee6"/>
<circle cx="413.8" cy="155.3" r="2.75" fill="#c8c02c"/>
<circle cx="339.7" cy="159.8" r="2.75" fill="#9a5f8c"/>
<circle cx="221.3" cy="141.3" r="2.75" fill="#9bb52a"/>
<circle cx="258.3" cy="163.6" r="2.75" fill="#d4339c"/>
<circle cx="102.8" cy="161.2" r="2.75" fill="#9bb52a"/>
<circle cx="376.8" cy="162.9" r="2.75" fill="#1ea8a8"/>
<circle cx="450.8" cy="224.3" r="2.75" fill="#d4339c"/>
<circle cx="480.4" cy="215.6" r="2.75" fill="#22b48f"/>
<circle cx="132.4" cy="231.3" r="2.75" fill="#1ea8a8"/>
<circle cx="310.1" cy="123.6" r="2.75" fill="#8fae2b"/>
<circle cx="391.6" cy="163.2" r="2.75" fill="#22b48f"/>
<circle cx="265.7" cy="135.4" r="2.75" fill="#2ba0cb"/>
<circle cx="139.8" cy="176.2" r="2.75" fill="#8fae2b"/>
<circle cx="265.7" cy="126.0" r="2.75" fill="#3baf44"/>
<circle cx="324.9" cy="136.3" r="2.75" fill="#3a6ee6"/>
<circle cx="110.2" cy="188.0" r="2.75" fill="#d88028"/>
<circle cx="428.6" cy="156.6" r="2.75" fill="#9bb52a"/>
<circle cx="162.0" cy="189.1" r="2.75" fill="#e0354c"/>
<circle cx="339.7" cy="155.0" r="2.75" fill="#d4339c"/>
<circle cx="280.5" cy="128.1" r="2.75" fill="#6dc59a"/>
<circle cx="258.3" cy="112.7" r="2.75" fill="#9bb52a"/>
<circle cx="361.9" cy="156.5" r="2.75" fill="#1b3f8a"/>
<circle cx="361.9" cy="120.3" r="2.75" fill="#9bb52a"/>
<circle cx="443.4" cy="190.8" r="2.75" fill="#6dc59a"/>
<circle cx="228.7" cy="169.2" r="2.75" fill="#e0354c"/>
<circle cx="176.8" cy="176.7" r="2.75" fill="#e0354c"/>
<circle cx="132.4" cy="169.1" r="2.75" fill="#3baf44"/>
<circle cx="184.3" cy="211.4" r="2.75" fill="#8a58c6"/>
<circle cx="480.4" cy="255.9" r="2.75" fill="#c331d4"/>
<circle cx="184.3" cy="235.6" r="2.75" fill="#1b3f8a"/>
<circle cx="184.3" cy="166.9" r="2.75" fill="#3baf44"/>
<circle cx="369.4" cy="143.2" r="2.75" fill="#d88028"/>
<circle cx="332.3" cy="146.4" r="2.75" fill="#8a58c6"/>
<circle cx="443.4" cy="219.2" r="2.75" fill="#d4339c"/>
<circle cx="243.5" cy="158.7" r="2.75" fill="#c8c02c"/>
<circle cx="339.7" cy="143.6" r="2.75" fill="#3a6ee6"/>
<circle cx="213.9" cy="171.2" r="2.75" fill="#22b48f"/>
<circle cx="339.7" cy="143.3" r="2.75" fill="#8a58c6"/>
<circle cx="369.4" cy="157.6" r="2.75" fill="#c331d4"/>
<circle cx="280.5" cy="138.0" r="2.75" fill="#e0354c"/>
<circle cx="199.1" cy="152.2" r="2.75" fill="#3baf44"/>
<circle cx="125.0" cy="252.1" r="2.75" fill="#c331d4"/>
<circle cx="258.3" cy="136.3" r="2.75" fill="#c8c02c"/>
<circle cx="347.1" cy="144.0" r="2.75" fill="#3a6ee6"/>
<circle cx="132.4" cy="201.9" r="2.75" fill="#c8c02c"/>
<circle cx="347.1" cy="131.9" r="2.75" fill="#c8c02c"/>
<circle cx="310.1" cy="132.9" r="2.75" fill="#3a6ee6"/>
<circle cx="443.4" cy="221.5" r="2.75" fill="#1b3f8a"/>
<circle cx="473.0" cy="214.1" r="2.75" fill="#8fae2b"/>
<circle cx="421.2" cy="141.3" r="2.75" fill="#9bb52a"/>
<circle cx="458.2" cy="207.5" r="2.75" fill="#e0354c"/>
<circle cx="191.7" cy="203.9" r="2.75" fill="#9a5f8c"/>
<circle cx="310.1" cy="121.8" r="2.75" fill="#6dc59a"/>
<circle cx="280.5" cy="145.9" r="2.75" fill="#8a58c6"/>
<circle cx="465.6" cy="240.1" r="2.75" fill="#3a6ee6"/>
<circle cx="117.6" cy="208.0" r="2.75" fill="#d88028"/>
<circle cx="376.8" cy="139.4" r="2.75" fill="#2ba0cb"/>
<circle cx="436.0" cy="205.5" r="2.75" fill="#d4339c"/>
<circle cx="428.6" cy="179.1" r="2.75" fill="#d88028"/>
<circle cx="184.3" cy="175.8" r="2.75" fill="#2ba0cb"/>
<circle cx="273.1" cy="148.3" r="2.75" fill="#e0354c"/>
<circle cx="324.9" cy="149.0" r="2.75" fill="#1ea8a8"/>
<circle cx="354.5" cy="149.1" r="2.75" fill="#3a6ee6"/>
<circle cx="347.1" cy="145.5" r="2.75" fill="#22b48f"/>
<circle cx="132.4" cy="207.1" r="2.75" fill="#1b3f8a"/>
<circle cx="347.1" cy="154.6" r="2.75" fill="#1ea8a8"/>
<circle cx="258.3" cy="157.5" r="2.75" fill="#8a58c6"/>
<circle cx="324.9" cy="118.4" r="2.75" fill="#3baf44"/>
<circle cx="428.6" cy="168.8" r="2.75" fill="#8fae2b"/>
<circle cx="354.5" cy="173.8" r="2.75" fill="#1b3f8a"/>
<circle cx="221.3" cy="177.8" r="2.75" fill="#c8c02c"/>
<circle cx="162.0" cy="202.0" r="2.75" fill="#8a58c6"/>
<circle cx="361.9" cy="144.8" r="2.75" fill="#c8c02c"/>
<circle cx="162.0" cy="259.7" r="2.75" fill="#d4339c"/>
<circle cx="228.7" cy="172.2" r="2.75" fill="#c8c02c"/>
<circle cx="110.2" cy="210.3" r="2.75" fill="#c8c02c"/>
<circle cx="369.4" cy="154.0" r="2.75" fill="#c8c02c"/>
<circle cx="169.4" cy="219.6" r="2.75" fill="#1b3f8a"/>
<circle cx="295.3" cy="173.8" r="2.75" fill="#c331d4"/>
<circle cx="221.3" cy="199.9" r="2.75" fill="#1b3f8a"/>
<circle cx="213.9" cy="158.6" r="2.75" fill="#9bb52a"/>
<circle cx="243.5" cy="156.7" r="2.75" fill="#d88028"/>
<circle cx="95.4" cy="281.6" r="2.75" fill="#1b3f8a"/>
<circle cx="421.2" cy="186.1" r="2.75" fill="#1b3f8a"/>
<circle cx="228.7" cy="191.8" r="2.75" fill="#c331d4"/>
<circle cx="302.7" cy="118.0" r="2.75" fill="#2ba0cb"/>
<circle cx="199.1" cy="148.2" r="2.75" fill="#9bb52a"/>
<circle cx="376.8" cy="145.4" r="2.75" fill="#22b48f"/>
<circle cx="458.2" cy="232.5" r="2.75" fill="#8a58c6"/>
<circle cx="413.8" cy="150.6" r="2.75" fill="#2ba0cb"/>
<circle cx="480.4" cy="179.1" r="2.75" fill="#3baf44"/>
<circle cx="273.1" cy="171.1" r="2.75" fill="#c331d4"/>
<circle cx="206.5" cy="169.1" r="2.75" fill="#2ba0cb"/>
<circle cx="295.3" cy="138.7" r="2.75" fill="#22b48f"/>
<circle cx="369.4" cy="155.7" r="2.75" fill="#22b48f"/>
<circle cx="236.1" cy="154.8" r="2.75" fill="#2ba0cb"/>
<circle cx="376.8" cy="153.6" r="2.75" fill="#3a6ee6"/>
<circle cx="162.0" cy="181.7" r="2.75" fill="#6dc59a"/>
<circle cx="458.2" cy="262.8" r="2.75" fill="#c331d4"/>
<circle cx="376.8" cy="146.1" r="2.75" fill="#6dc59a"/>
<circle cx="250.9" cy="170.6" r="2.75" fill="#1ea8a8"/>
<circle cx="450.8" cy="204.1" r="2.75" fill="#3a6ee6"/>
<circle cx="428.6" cy="221.5" r="2.75" fill="#c331d4"/>
<circle cx="458.2" cy="271.2" r="2.75" fill="#d4339c"/>
<circle cx="384.2" cy="153.7" r="2.75" fill="#3baf44"/>
<circle cx="458.2" cy="250.7" r="2.75" fill="#1ea8a8"/>
<circle cx="221.3" cy="147.2" r="2.75" fill="#3baf44"/>
<circle cx="228.7" cy="161.6" r="2.75" fill="#22b48f"/>
<circle cx="250.9" cy="158.6" r="2.75" fill="#9a5f8c"/>
<circle cx="361.9" cy="155.0" r="2.75" fill="#d4339c"/>
<circle cx="221.3" cy="180.6" r="2.75" fill="#e0354c"/>
<circle cx="302.7" cy="114.6" r="2.75" fill="#3baf44"/>
<circle cx="273.1" cy="137.2" r="2.75" fill="#22b48f"/>
<circle cx="317.5" cy="129.9" r="2.75" fill="#22b48f"/>
<circle cx="287.9" cy="124.0" r="2.75" fill="#6dc59a"/>
<circle cx="391.6" cy="174.2" r="2.75" fill="#8a58c6"/>
<circle cx="169.4" cy="187.0" r="2.75" fill="#8a58c6"/>
<circle cx="399.0" cy="174.6" r="2.75" fill="#9a5f8c"/>
<circle cx="265.7" cy="145.9" r="2.75" fill="#8a58c6"/>
<circle cx="147.2" cy="208.0" r="2.75" fill="#c8c02c"/>
<circle cx="465.6" cy="260.8" r="2.75" fill="#d4339c"/>
<circle cx="169.4" cy="185.0" r="2.75" fill="#e0354c"/>
<circle cx="413.8" cy="182.9" r="2.75" fill="#e0354c"/>
<circle cx="317.5" cy="154.5" r="2.75" fill="#9a5f8c"/>
<circle cx="302.7" cy="143.1" r="2.75" fill="#1b3f8a"/>
<circle cx="436.0" cy="185.9" r="2.75" fill="#c8c02c"/>
<circle cx="361.9" cy="133.0" r="2.75" fill="#8fae2b"/>
<circle cx="265.7" cy="138.7" r="2.75" fill="#22b48f"/>
<circle cx="243.5" cy="178.1" r="2.75" fill="#1b3f8a"/>
<circle cx="117.6" cy="182.0" r="2.75" fill="#3baf44"/>
<circle cx="376.8" cy="122.2" r="2.75" fill="#9bb52a"/>
<circle cx="324.9" cy="146.5" r="2.75" fill="#d4339c"/>
<circle cx="169.4" cy="188.5" r="2.75" fill="#8fae2b"/>
<circle cx="376.8" cy="157.9" r="2.75" fill="#e0354c"/>
<circle cx="436.0" cy="187.1" r="2.75" fill="#6dc59a"/>
<circle cx="236.1" cy="137.5" r="2.75" fill="#3baf44"/>
<circle cx="236.1" cy="143.9" r="2.75" fill="#9bb52a"/>
<circle cx="273.1" cy="129.1" r="2.75" fill="#9bb52a"/>
<circle cx="132.4" cy="248.9" r="2.75" fill="#c331d4"/>
<circle cx="384.2" cy="158.8" r="2.75" fill="#c8c02c"/>
<circle cx="413.8" cy="137.5" r="2.75" fill="#9bb52a"/>
<circle cx="399.0" cy="156.7" r="2.75" fill="#2ba0cb"/>
<circle cx="473.0" cy="195.2" r="2.75" fill="#9bb52a"/>
<circle cx="117.6" cy="182.7" r="2.75" fill="#9bb52a"/>
<circle cx="95.4" cy="199.8" r="2.75" fill="#d88028"/>
<circle cx="110.2" cy="286.5" r="2.75" fill="#d4339c"/>
<circle cx="428.6" cy="163.2" r="2.75" fill="#3baf44"/>
<circle cx="117.6" cy="228.0" r="2.75" fill="#3a6ee6"/>
<circle cx="213.9" cy="184.1" r="2.75" fill="#c8c02c"/>
<circle cx="473.0" cy="224.9" r="2.75" fill="#d88028"/>
<circle cx="310.1" cy="133.8" r="2.75" fill="#22b48f"/>
<circle cx="324.9" cy="128.5" r="2.75" fill="#9bb52a"/>
<circle cx="428.6" cy="189.4" r="2.75" fill="#3a6ee6"/>
<circle cx="354.5" cy="141.5" r="2.75" fill="#c8c02c"/>
<circle cx="391.6" cy="177.8" r="2.75" fill="#1ea8a8"/>
<circle cx="228.7" cy="147.4" r="2.75" fill="#2ba0cb"/>
<circle cx="132.4" cy="223.6" r="2.75" fill="#3a6ee6"/>
<circle cx="450.8" cy="196.1" r="2.75" fill="#22b48f"/>
<circle cx="436.0" cy="179.5" r="2.75" fill="#d88028"/>
<circle cx="162.0" cy="219.7" r="2.75" fill="#9a5f8c"/>
<circle cx="421.2" cy="182.0" r="2.75" fill="#c8c02c"/>
<circle cx="428.6" cy="181.2" r="2.75" fill="#2ba0cb"/>
<circle cx="443.4" cy="172.0" r="2.75" fill="#3baf44"/>
<circle cx="458.2" cy="210.7" r="2.75" fill="#9a5f8c"/>
<circle cx="265.7" cy="148.0" r="2.75" fill="#3a6ee6"/>
<circle cx="117.6" cy="254.4" r="2.75" fill="#1b3f8a"/>
<circle cx="176.8" cy="150.9" r="2.75" fill="#9bb52a"/>
<circle cx="443.4" cy="190.9" r="2.75" fill="#c8c02c"/>
<circle cx="436.0" cy="156.6" r="2.75" fill="#9bb52a"/>
<circle cx="302.7" cy="118.7" r="2.75" fill="#9bb52a"/>
<circle cx="206.5" cy="182.1" r="2.75" fill="#e0354c"/>
<circle cx="361.9" cy="152.8" r="2.75" fill="#22b48f"/>
<circle cx="436.0" cy="212.0" r="2.75" fill="#c331d4"/>
<circle cx="221.3" cy="170.8" r="2.75" fill="#22b48f"/>
<circle cx="102.8" cy="256.1" r="2.75" fill="#1b3f8a"/>
<circle cx="480.4" cy="251.6" r="2.75" fill="#d4339c"/>
<circle cx="154.6" cy="212.9" r="2.75" fill="#1b3f8a"/>
<circle cx="473.0" cy="225.2" r="2.75" fill="#22b48f"/>
<circle cx="191.7" cy="149.0" r="2.75" fill="#3baf44"/>
<circle cx="132.4" cy="203.9" r="2.75" fill="#8fae2b"/>
<circle cx="147.2" cy="172.6" r="2.75" fill="#3baf44"/>
<circle cx="406.4" cy="155.2" r="2.75" fill="#9bb52a"/>
<circle cx="413.8" cy="156.7" r="2.75" fill="#6dc59a"/>
<circle cx="95.4" cy="215.7" r="2.75" fill="#c8c02c"/>
<circle cx="95.4" cy="249.1" r="2.75" fill="#8a58c6"/>
<circle cx="295.3" cy="142.8" r="2.75" fill="#1b3f8a"/>
<circle cx="95.4" cy="146.7" r="2.75" fill="#9bb52a"/>
<circle cx="391.6" cy="194.9" r="2.75" fill="#1b3f8a"/>
<circle cx="162.0" cy="172.5" r="2.75" fill="#c8c02c"/>
<circle cx="191.7" cy="180.0" r="2.75" fill="#c8c02c"/>
<circle cx="317.5" cy="140.6" r="2.75" fill="#d4339c"/>
<circle cx="399.0" cy="182.1" r="2.75" fill="#8a58c6"/>
<circle cx="132.4" cy="222.1" r="2.75" fill="#22b48f"/>
<circle cx="139.8" cy="207.0" r="2.75" fill="#22b48f"/>
<circle cx="354.5" cy="166.9" r="2.75" fill="#d4339c"/>
<circle cx="287.9" cy="142.3" r="2.75" fill="#3a6ee6"/>
<circle cx="458.2" cy="233.3" r="2.75" fill="#3a6ee6"/>
<circle cx="317.5" cy="141.7" r="2.75" fill="#8a58c6"/>
<circle cx="162.0" cy="149.0" r="2.75" fill="#2ba0cb"/>
<circle cx="406.4" cy="184.7" r="2.75" fill="#c331d4"/>
<circle cx="369.4" cy="128.6" r="2.75" fill="#9bb52a"/>
<circle cx="376.8" cy="171.9" r="2.75" fill="#d4339c"/>
<circle cx="273.1" cy="130.2" r="2.75" fill="#6dc59a"/>
<circle cx="413.8" cy="168.5" r="2.75" fill="#8fae2b"/>
<circle cx="95.4" cy="156.4" r="2.75" fill="#3baf44"/>
<path d="M95.4 225.7 L96.1 225.6 L97.1 225.4 L98.1 225.2 L99.4 224.9 L100.8 224.6 L102.3 224.2 L104.0 223.7 L105.8 223.1 L107.7 222.3 L109.9 221.5 L112.2 220.6 L114.7 219.6 L117.2 218.5 L119.8 217.3 L122.4 216.0 L125.0 214.7 L127.7 213.1 L130.4 211.4 L133.1 209.5 L135.9 207.6 L138.8 205.6 L141.6 203.7 L144.4 201.8 L147.2 200.1 L150.0 198.6 L152.7 197.0 L155.4 195.6 L158.1 194.1 L160.8 192.8 L163.6 191.5 L166.5 190.2 L169.4 189.1 L172.5 188.0 L175.7 187.1 L178.9 186.2 L182.2 185.4 L185.5 184.6 L188.8 183.8 L192.1 183.0 L195.4 182.2 L198.6 181.3 L201.9 180.5 L205.2 179.7 L208.5 178.9 L211.8 178.0 L214.9 177.1 L217.8 176.3 L220.5 175.3 L223.0 174.4 L225.2 173.4 L227.3 172.5 L229.3 171.5 L231.2 170.5 L233.0 169.4 L234.9 168.2 L236.8 166.9 L238.8 165.5 L240.7 163.9 L242.7 162.3 L244.6 160.6 L246.5 158.9 L248.4 157.1 L250.4 155.5 L252.4 153.9 L254.4 152.4 L256.3 151.0 L258.3 149.5 L260.3 148.1 L262.4 146.8 L264.4 145.4 L266.5 144.1 L268.7 142.8 L270.9 141.6 L273.2 140.4 L275.5 139.1 L277.9 138.0 L280.3 136.8 L282.6 135.8 L284.9 134.9 L287.2 134.1 L289.3 133.4 L291.3 132.8 L293.3 132.2 L295.3 131.8 L297.2 131.5 L299.2 131.2 L301.3 131.1 L303.5 131.0 L305.7 131.1 L307.9 131.2 L310.2 131.5 L312.5 131.8 L314.9 132.2 L317.4 132.8 L320.0 133.4 L322.7 134.1 L325.6 134.9 L328.6 135.8 L331.7 136.9 L334.9 138.0 L338.1 139.2 L341.4 140.5 L344.7 141.7 L347.9 142.8 L351.1 144.0 L354.5 145.2 L357.9 146.4 L361.3 147.7 L364.6 148.9 L367.8 150.1 L370.9 151.3 L373.8 152.4 L376.5 153.4 L378.9 154.4 L381.2 155.3 L383.5 156.2 L385.6 157.1 L387.8 158.1 L390.0 159.2 L392.3 160.4 L394.7 161.8 L397.1 163.2 L399.6 164.8 L402.1 166.4 L404.5 168.1 L406.9 169.8 L409.3 171.4 L411.6 173.0 L413.7 174.6 L415.9 176.1 L417.9 177.6 L419.9 179.1 L421.9 180.7 L423.9 182.2 L425.9 183.9 L427.8 185.6 L429.8 187.5 L431.7 189.4 L433.6 191.5 L435.4 193.6 L437.3 195.6 L439.3 197.7 L441.3 199.7 L443.4 201.7 L445.6 203.6 L448.0 205.5 L450.4 207.4 L452.9 209.2 L455.4 211.0 L457.8 212.7 L460.3 214.3 L462.6 215.8 L465.1 217.2 L467.6 218.6 L470.2 219.9 L472.7 221.1 L475.1 222.2 L477.3 223.1 L479.1 224.0 L480.4 224.6" fill="none" stroke="#e4354d" stroke-width="2.6" stroke-linejoin="round" stroke-linecap="round"/>
</g>
<rect x="36.5" y="350.5" width="73" height="22" fill="url(#cg)" stroke="#adadad"/>
<text x="42" y="367" font-size="12.75" fill="#1a1a1a">Training</text>
<path d="M97.6 359.4 L100.6 362.5 L103.6 359.4" fill="none" stroke="#505050" stroke-width="1.2"/>
<rect x="114.5" y="350.5" width="53" height="22" fill="url(#cg)" stroke="#adadad"/>
<text x="120" y="367" font-size="12.75" fill="#1a1a1a">1-16</text>
<path d="M155.6 359.4 L158.6 362.5 L161.6 359.4" fill="none" stroke="#505050" stroke-width="1.2"/>
<rect x="171.5" y="349.5" width="21" height="21" fill="none" stroke="#fcfcfc"/>
<rect x="172.5" y="350.5" width="19" height="19" fill="#dcdcdc" stroke="#6a6a6a"/>
<path d="M175.9 360 L181.6 353.9 L181.6 357.2 L187.9 357.2 L187.9 362.9 L181.6 362.9 L181.6 366.1 Z" fill="#525252"/>
<rect x="195.5" y="349.5" width="21" height="21" fill="none" stroke="#fcfcfc"/>
<rect x="196.5" y="350.5" width="19" height="19" fill="#dcdcdc" stroke="#6a6a6a"/>
<path d="M211.9 360 L206.4 353.9 L206.4 357.2 L200.3 357.2 L200.3 362.9 L206.4 362.9 L206.4 366.1 Z" fill="#525252"/>
<clipPath id="pc0"><rect x="63.0" y="421.5" width="85" height="85.0"/></clipPath>
<clipPath id="pc1"><rect x="148.0" y="421.5" width="85" height="85.0"/></clipPath>
<clipPath id="pc2"><rect x="233.0" y="421.5" width="85" height="85.0"/></clipPath>
<clipPath id="pc3"><rect x="318.0" y="421.5" width="85" height="85.0"/></clipPath>
<clipPath id="pc4"><rect x="403.0" y="421.5" width="85" height="85.0"/></clipPath>
<rect x="62.5" y="421.5" width="85" height="85.0" fill="#fff" stroke="#a0a0a0"/>
<line x1="67.5" y1="415.5" x2="67.5" y2="421.5" stroke="#a0a0a0"/>
<line x1="81.5" y1="415.5" x2="81.5" y2="421.5" stroke="#a0a0a0"/>
<line x1="95.5" y1="415.5" x2="95.5" y2="421.5" stroke="#a0a0a0"/>
<line x1="109.5" y1="415.5" x2="109.5" y2="421.5" stroke="#a0a0a0"/>
<line x1="123.5" y1="415.5" x2="123.5" y2="421.5" stroke="#a0a0a0"/>
<line x1="136.5" y1="415.5" x2="136.5" y2="421.5" stroke="#a0a0a0"/>
<text x="66.8" y="409.3" font-size="12.3" text-anchor="middle" fill="#202020">0</text>
<text x="94.4" y="409.3" font-size="12.3" text-anchor="middle" fill="#202020">20</text>
<text x="122.0" y="409.3" font-size="12.3" text-anchor="middle" fill="#202020">40</text>
<g clip-path="url(#pc0)">
<circle cx="68.1" cy="476.4" r="1.6" fill="#e0354c"/>
<circle cx="69.5" cy="462.7" r="1.6" fill="#e0354c"/>
<circle cx="70.8" cy="472.8" r="1.6" fill="#e0354c"/>
<circle cx="72.2" cy="472.8" r="1.6" fill="#e0354c"/>
<circle cx="73.6" cy="476.3" r="1.6" fill="#e0354c"/>
<circle cx="75.0" cy="471.8" r="1.6" fill="#e0354c"/>
<circle cx="76.3" cy="470.9" r="1.6" fill="#e0354c"/>
<circle cx="77.7" cy="458.6" r="1.6" fill="#e0354c"/>
<circle cx="79.1" cy="459.3" r="1.6" fill="#e0354c"/>
<circle cx="80.5" cy="460.0" r="1.6" fill="#e0354c"/>
<circle cx="81.8" cy="461.8" r="1.6" fill="#e0354c"/>
<circle cx="83.2" cy="460.9" r="1.6" fill="#e0354c"/>
<circle cx="84.6" cy="456.1" r="1.6" fill="#e0354c"/>
<circle cx="86.0" cy="462.4" r="1.6" fill="#e0354c"/>
<circle cx="87.3" cy="449.8" r="1.6" fill="#e0354c"/>
<circle cx="88.7" cy="449.9" r="1.6" fill="#e0354c"/>
<circle cx="90.1" cy="453.0" r="1.6" fill="#e0354c"/>
<circle cx="91.5" cy="454.4" r="1.6" fill="#e0354c"/>
<circle cx="92.8" cy="448.2" r="1.6" fill="#e0354c"/>
<circle cx="94.2" cy="454.3" r="1.6" fill="#e0354c"/>
<circle cx="95.6" cy="447.7" r="1.6" fill="#e0354c"/>
<circle cx="97.0" cy="448.0" r="1.6" fill="#e0354c"/>
<circle cx="98.3" cy="447.2" r="1.6" fill="#e0354c"/>
<circle cx="99.7" cy="443.2" r="1.6" fill="#e0354c"/>
<circle cx="101.1" cy="439.8" r="1.6" fill="#e0354c"/>
<circle cx="102.5" cy="433.7" r="1.6" fill="#e0354c"/>
<circle cx="103.8" cy="443.5" r="1.6" fill="#e0354c"/>
<circle cx="105.2" cy="437.9" r="1.6" fill="#e0354c"/>
<circle cx="106.6" cy="437.4" r="1.6" fill="#e0354c"/>
<circle cx="108.0" cy="434.9" r="1.6" fill="#e0354c"/>
<circle cx="109.3" cy="439.7" r="1.6" fill="#e0354c"/>
<circle cx="110.7" cy="439.8" r="1.6" fill="#e0354c"/>
<circle cx="112.1" cy="435.7" r="1.6" fill="#e0354c"/>
<circle cx="113.5" cy="437.9" r="1.6" fill="#e0354c"/>
<circle cx="114.8" cy="438.1" r="1.6" fill="#e0354c"/>
<circle cx="116.2" cy="441.4" r="1.6" fill="#e0354c"/>
<circle cx="117.6" cy="438.5" r="1.6" fill="#e0354c"/>
<circle cx="119.0" cy="440.6" r="1.6" fill="#e0354c"/>
<circle cx="120.3" cy="446.1" r="1.6" fill="#e0354c"/>
<circle cx="121.7" cy="442.1" r="1.6" fill="#e0354c"/>
<circle cx="123.1" cy="444.9" r="1.6" fill="#e0354c"/>
<circle cx="124.5" cy="447.7" r="1.6" fill="#e0354c"/>
<circle cx="125.8" cy="448.7" r="1.6" fill="#e0354c"/>
<circle cx="127.2" cy="455.4" r="1.6" fill="#e0354c"/>
<circle cx="128.6" cy="455.0" r="1.6" fill="#e0354c"/>
<circle cx="129.9" cy="456.5" r="1.6" fill="#e0354c"/>
<circle cx="131.3" cy="459.7" r="1.6" fill="#e0354c"/>
<circle cx="132.7" cy="461.0" r="1.6" fill="#e0354c"/>
<circle cx="134.1" cy="468.2" r="1.6" fill="#e0354c"/>
<circle cx="135.4" cy="466.2" r="1.6" fill="#e0354c"/>
<circle cx="136.8" cy="468.1" r="1.6" fill="#e0354c"/>
<circle cx="138.2" cy="480.8" r="1.6" fill="#e0354c"/>
<circle cx="139.6" cy="470.8" r="1.6" fill="#e0354c"/>
<path d="M68.0 474.7 L69.3 474.6 L69.7 474.6 L70.0 474.5 L70.4 474.3 L71.1 474.1 L71.8 473.7 L72.6 473.3 L73.3 472.7 L74.1 471.9 L74.9 471.0 L75.8 470.0 L76.6 468.9 L77.4 467.7 L78.3 466.6 L79.1 465.4 L80.0 464.2 L80.8 463.1 L81.7 462.0 L82.5 460.9 L83.4 459.9 L84.2 458.9 L85.0 458.0 L85.8 457.0 L86.7 456.2 L87.5 455.3 L88.3 454.5 L89.1 453.8 L90.0 453.0 L90.8 452.2 L91.6 451.4 L92.5 450.6 L93.4 449.7 L94.3 448.8 L95.3 447.9 L96.3 446.9 L97.2 445.9 L98.2 445.0 L99.3 444.0 L100.3 443.1 L101.3 442.3 L102.3 441.5 L103.3 440.8 L104.3 440.2 L105.3 439.6 L106.3 439.2 L107.3 438.8 L108.3 438.6 L109.3 438.4 L110.2 438.4 L111.1 438.5 L112.0 438.6 L112.8 438.8 L113.6 439.0 L114.4 439.3 L115.1 439.5 L115.7 439.8 L116.2 440.0 L116.6 440.1 L117.0 440.3 L117.4 440.5 L117.8 440.7 L118.1 440.9 L118.5 441.3 L119.0 441.8 L119.4 442.3 L120.0 443.0 L120.6 443.8 L121.2 444.7 L121.9 445.6 L122.6 446.6 L123.3 447.7 L124.1 448.8 L124.8 449.9 L125.6 451.1 L126.4 452.3 L127.3 453.5 L128.1 454.8 L129.0 456.1 L129.9 457.5 L130.9 459.0 L131.9 460.5 L132.9 462.1 L134.0 463.6 L134.9 465.1 L135.5 465.9 L136.0 466.7 L136.6 467.5 L138.7 470.7" fill="none" stroke="#e4354d" stroke-width="2.3" stroke-linejoin="round" stroke-linecap="round"/>
<text x="104.0" y="496.7" font-size="12.6" text-anchor="middle" fill="#8b8b98">Bristol, TN</text>
</g>
<rect x="147.5" y="421.5" width="85" height="85.0" fill="#fff" stroke="#a0a0a0"/>
<line x1="152.5" y1="415.5" x2="152.5" y2="421.5" stroke="#a0a0a0"/>
<line x1="166.5" y1="415.5" x2="166.5" y2="421.5" stroke="#a0a0a0"/>
<line x1="180.5" y1="415.5" x2="180.5" y2="421.5" stroke="#a0a0a0"/>
<line x1="194.5" y1="415.5" x2="194.5" y2="421.5" stroke="#a0a0a0"/>
<line x1="208.5" y1="415.5" x2="208.5" y2="421.5" stroke="#a0a0a0"/>
<line x1="221.5" y1="415.5" x2="221.5" y2="421.5" stroke="#a0a0a0"/>
<text x="151.8" y="409.3" font-size="12.3" text-anchor="middle" fill="#202020">0</text>
<text x="179.4" y="409.3" font-size="12.3" text-anchor="middle" fill="#202020">20</text>
<text x="207.0" y="409.3" font-size="12.3" text-anchor="middle" fill="#202020">40</text>
<g clip-path="url(#pc1)">
<circle cx="153.1" cy="456.2" r="1.6" fill="#3aae45"/>
<circle cx="154.4" cy="456.0" r="1.6" fill="#3aae45"/>
<circle cx="155.8" cy="460.8" r="1.6" fill="#3aae45"/>
<circle cx="157.2" cy="456.2" r="1.6" fill="#3aae45"/>
<circle cx="158.6" cy="450.5" r="1.6" fill="#3aae45"/>
<circle cx="159.9" cy="456.2" r="1.6" fill="#3aae45"/>
<circle cx="161.3" cy="445.8" r="1.6" fill="#3aae45"/>
<circle cx="162.7" cy="451.1" r="1.6" fill="#3aae45"/>
<circle cx="164.1" cy="451.1" r="1.6" fill="#3aae45"/>
<circle cx="165.4" cy="449.6" r="1.6" fill="#3aae45"/>
<circle cx="166.8" cy="445.3" r="1.6" fill="#3aae45"/>
<circle cx="168.2" cy="451.5" r="1.6" fill="#3aae45"/>
<circle cx="169.6" cy="450.5" r="1.6" fill="#3aae45"/>
<circle cx="170.9" cy="446.8" r="1.6" fill="#3aae45"/>
<circle cx="172.3" cy="446.0" r="1.6" fill="#3aae45"/>
<circle cx="173.7" cy="452.8" r="1.6" fill="#3aae45"/>
<circle cx="175.1" cy="447.9" r="1.6" fill="#3aae45"/>
<circle cx="176.4" cy="443.2" r="1.6" fill="#3aae45"/>
<circle cx="177.8" cy="443.9" r="1.6" fill="#3aae45"/>
<circle cx="179.2" cy="447.8" r="1.6" fill="#3aae45"/>
<circle cx="180.6" cy="441.5" r="1.6" fill="#3aae45"/>
<circle cx="181.9" cy="446.0" r="1.6" fill="#3aae45"/>
<circle cx="183.3" cy="444.3" r="1.6" fill="#3aae45"/>
<circle cx="184.7" cy="442.7" r="1.6" fill="#3aae45"/>
<circle cx="186.1" cy="436.2" r="1.6" fill="#3aae45"/>
<circle cx="187.4" cy="437.3" r="1.6" fill="#3aae45"/>
<circle cx="188.8" cy="435.9" r="1.6" fill="#3aae45"/>
<circle cx="190.2" cy="432.2" r="1.6" fill="#3aae45"/>
<circle cx="191.6" cy="440.2" r="1.6" fill="#3aae45"/>
<circle cx="192.9" cy="438.5" r="1.6" fill="#3aae45"/>
<circle cx="194.3" cy="434.5" r="1.6" fill="#3aae45"/>
<circle cx="195.7" cy="430.7" r="1.6" fill="#3aae45"/>
<circle cx="197.1" cy="440.5" r="1.6" fill="#3aae45"/>
<circle cx="198.4" cy="431.1" r="1.6" fill="#3aae45"/>
<circle cx="199.8" cy="435.7" r="1.6" fill="#3aae45"/>
<circle cx="201.2" cy="432.0" r="1.6" fill="#3aae45"/>
<circle cx="202.6" cy="436.4" r="1.6" fill="#3aae45"/>
<circle cx="203.9" cy="439.9" r="1.6" fill="#3aae45"/>
<circle cx="205.3" cy="433.7" r="1.6" fill="#3aae45"/>
<circle cx="206.7" cy="443.2" r="1.6" fill="#3aae45"/>
<circle cx="208.1" cy="437.3" r="1.6" fill="#3aae45"/>
<circle cx="209.4" cy="442.2" r="1.6" fill="#3aae45"/>
<circle cx="210.8" cy="445.0" r="1.6" fill="#3aae45"/>
<circle cx="212.2" cy="443.9" r="1.6" fill="#3aae45"/>
<circle cx="213.6" cy="443.6" r="1.6" fill="#3aae45"/>
<circle cx="214.9" cy="444.9" r="1.6" fill="#3aae45"/>
<circle cx="216.3" cy="446.6" r="1.6" fill="#3aae45"/>
<circle cx="217.7" cy="450.9" r="1.6" fill="#3aae45"/>
<circle cx="219.1" cy="451.8" r="1.6" fill="#3aae45"/>
<circle cx="220.4" cy="452.4" r="1.6" fill="#3aae45"/>
<circle cx="221.8" cy="452.9" r="1.6" fill="#3aae45"/>
<circle cx="223.2" cy="455.9" r="1.6" fill="#3aae45"/>
<circle cx="224.6" cy="460.6" r="1.6" fill="#3aae45"/>
<path d="M153.7 458.0 L155.2 456.4 L155.6 456.0 L156.0 455.6 L156.4 455.2 L157.2 454.4 L158.0 453.7 L158.9 452.9 L159.8 452.1 L160.7 451.3 L161.7 450.6 L162.6 449.9 L163.6 449.2 L164.6 448.6 L165.6 448.0 L166.7 447.5 L167.7 447.0 L168.7 446.6 L169.8 446.3 L170.8 446.1 L171.8 445.9 L172.8 445.7 L173.7 445.5 L174.6 445.4 L175.5 445.3 L176.3 445.1 L177.0 444.9 L177.7 444.7 L178.4 444.5 L179.1 444.2 L179.8 443.8 L180.5 443.4 L181.2 442.9 L181.9 442.4 L182.7 441.7 L183.5 441.0 L184.4 440.3 L185.2 439.6 L186.0 438.9 L186.8 438.2 L187.6 437.6 L188.3 437.0 L189.0 436.4 L189.7 436.0 L190.4 435.6 L191.1 435.3 L191.7 435.0 L192.3 434.8 L193.0 434.6 L193.6 434.6 L194.2 434.5 L194.9 434.6 L195.6 434.6 L196.2 434.8 L197.0 434.9 L197.7 435.1 L198.6 435.4 L199.4 435.6 L200.4 435.9 L201.3 436.2 L202.3 436.6 L203.3 436.9 L204.2 437.2 L205.2 437.6 L206.0 437.9 L206.8 438.3 L207.6 438.6 L208.4 439.0 L209.1 439.4 L209.7 439.9 L210.4 440.4 L211.1 441.1 L211.8 441.8 L212.6 442.7 L213.4 443.7 L214.2 444.8 L215.0 445.9 L215.8 447.1 L216.6 448.2 L217.5 449.3 L218.3 450.4 L219.2 451.4 L220.0 452.4 L220.8 453.3 L221.5 454.0 L221.9 454.5 L222.3 454.9 L222.7 455.2 L224.3 456.7" fill="none" stroke="#e4354d" stroke-width="2.3" stroke-linejoin="round" stroke-linecap="round"/>
<text x="189.0" y="496.7" font-size="12.6" text-anchor="middle" fill="#8b8b98">Corpus Christi, TX</text>
</g>
<rect x="232.5" y="421.5" width="85" height="85.0" fill="#fff" stroke="#a0a0a0"/>
<line x1="237.5" y1="415.5" x2="237.5" y2="421.5" stroke="#a0a0a0"/>
<line x1="251.5" y1="415.5" x2="251.5" y2="421.5" stroke="#a0a0a0"/>
<line x1="265.5" y1="415.5" x2="265.5" y2="421.5" stroke="#a0a0a0"/>
<line x1="279.5" y1="415.5" x2="279.5" y2="421.5" stroke="#a0a0a0"/>
<line x1="293.5" y1="415.5" x2="293.5" y2="421.5" stroke="#a0a0a0"/>
<line x1="306.5" y1="415.5" x2="306.5" y2="421.5" stroke="#a0a0a0"/>
<text x="236.8" y="409.3" font-size="12.3" text-anchor="middle" fill="#202020">0</text>
<text x="264.4" y="409.3" font-size="12.3" text-anchor="middle" fill="#202020">20</text>
<text x="292.0" y="409.3" font-size="12.3" text-anchor="middle" fill="#202020">40</text>
<g clip-path="url(#pc2)">
<circle cx="238.1" cy="480.6" r="1.6" fill="#3a6ee6"/>
<circle cx="239.4" cy="474.6" r="1.6" fill="#3a6ee6"/>
<circle cx="240.8" cy="476.5" r="1.6" fill="#3a6ee6"/>
<circle cx="242.2" cy="471.2" r="1.6" fill="#3a6ee6"/>
<circle cx="243.6" cy="481.7" r="1.6" fill="#3a6ee6"/>
<circle cx="244.9" cy="470.2" r="1.6" fill="#3a6ee6"/>
<circle cx="246.3" cy="465.2" r="1.6" fill="#3a6ee6"/>
<circle cx="247.7" cy="472.4" r="1.6" fill="#3a6ee6"/>
<circle cx="249.1" cy="461.8" r="1.6" fill="#3a6ee6"/>
<circle cx="250.4" cy="471.7" r="1.6" fill="#3a6ee6"/>
<circle cx="251.8" cy="462.3" r="1.6" fill="#3a6ee6"/>
<circle cx="253.2" cy="461.1" r="1.6" fill="#3a6ee6"/>
<circle cx="254.6" cy="461.2" r="1.6" fill="#3a6ee6"/>
<circle cx="255.9" cy="462.2" r="1.6" fill="#3a6ee6"/>
<circle cx="257.3" cy="456.0" r="1.6" fill="#3a6ee6"/>
<circle cx="258.7" cy="466.2" r="1.6" fill="#3a6ee6"/>
<circle cx="260.1" cy="466.4" r="1.6" fill="#3a6ee6"/>
<circle cx="261.4" cy="460.3" r="1.6" fill="#3a6ee6"/>
<circle cx="262.8" cy="460.9" r="1.6" fill="#3a6ee6"/>
<circle cx="264.2" cy="459.2" r="1.6" fill="#3a6ee6"/>
<circle cx="265.6" cy="456.3" r="1.6" fill="#3a6ee6"/>
<circle cx="266.9" cy="456.4" r="1.6" fill="#3a6ee6"/>
<circle cx="268.3" cy="453.9" r="1.6" fill="#3a6ee6"/>
<circle cx="269.7" cy="448.9" r="1.6" fill="#3a6ee6"/>
<circle cx="271.1" cy="446.6" r="1.6" fill="#3a6ee6"/>
<circle cx="272.4" cy="441.7" r="1.6" fill="#3a6ee6"/>
<circle cx="273.8" cy="441.1" r="1.6" fill="#3a6ee6"/>
<circle cx="275.2" cy="443.4" r="1.6" fill="#3a6ee6"/>
<circle cx="276.6" cy="450.7" r="1.6" fill="#3a6ee6"/>
<circle cx="277.9" cy="438.0" r="1.6" fill="#3a6ee6"/>
<circle cx="279.3" cy="436.8" r="1.6" fill="#3a6ee6"/>
<circle cx="280.7" cy="440.9" r="1.6" fill="#3a6ee6"/>
<circle cx="282.1" cy="440.7" r="1.6" fill="#3a6ee6"/>
<circle cx="283.4" cy="442.1" r="1.6" fill="#3a6ee6"/>
<circle cx="284.8" cy="436.7" r="1.6" fill="#3a6ee6"/>
<circle cx="286.2" cy="454.4" r="1.6" fill="#3a6ee6"/>
<circle cx="287.6" cy="451.6" r="1.6" fill="#3a6ee6"/>
<circle cx="288.9" cy="448.8" r="1.6" fill="#3a6ee6"/>
<circle cx="290.3" cy="451.2" r="1.6" fill="#3a6ee6"/>
<circle cx="291.7" cy="441.1" r="1.6" fill="#3a6ee6"/>
<circle cx="293.1" cy="451.8" r="1.6" fill="#3a6ee6"/>
<circle cx="294.4" cy="444.8" r="1.6" fill="#3a6ee6"/>
<circle cx="295.8" cy="448.2" r="1.6" fill="#3a6ee6"/>
<circle cx="297.2" cy="454.5" r="1.6" fill="#3a6ee6"/>
<circle cx="298.6" cy="457.4" r="1.6" fill="#3a6ee6"/>
<circle cx="299.9" cy="458.8" r="1.6" fill="#3a6ee6"/>
<circle cx="301.3" cy="465.0" r="1.6" fill="#3a6ee6"/>
<circle cx="302.7" cy="460.2" r="1.6" fill="#3a6ee6"/>
<circle cx="304.1" cy="470.7" r="1.6" fill="#3a6ee6"/>
<circle cx="305.4" cy="465.7" r="1.6" fill="#3a6ee6"/>
<circle cx="306.8" cy="465.5" r="1.6" fill="#3a6ee6"/>
<circle cx="308.2" cy="471.2" r="1.6" fill="#3a6ee6"/>
<circle cx="309.6" cy="475.2" r="1.6" fill="#3a6ee6"/>
<path d="M238.7 476.7 L239.9 475.8 L240.2 475.6 L240.5 475.3 L240.8 475.0 L241.4 474.5 L242.0 473.8 L242.7 473.1 L243.3 472.3 L244.0 471.4 L244.7 470.4 L245.4 469.3 L246.0 468.3 L246.7 467.2 L247.3 466.3 L247.9 465.4 L248.5 464.6 L249.1 463.9 L249.6 463.4 L250.1 462.9 L250.7 462.6 L251.2 462.4 L251.7 462.3 L252.3 462.2 L253.0 462.2 L253.7 462.3 L254.4 462.4 L255.2 462.6 L256.0 462.7 L256.8 462.8 L257.6 462.9 L258.3 463.0 L259.0 462.9 L259.7 462.8 L260.3 462.6 L260.8 462.4 L261.3 462.0 L261.9 461.5 L262.4 461.0 L262.9 460.4 L263.5 459.7 L264.1 458.9 L264.7 458.1 L265.3 457.2 L266.0 456.2 L266.7 455.2 L267.3 454.1 L267.9 453.1 L268.5 451.9 L269.1 450.8 L269.7 449.7 L270.2 448.6 L270.7 447.5 L271.2 446.5 L271.7 445.4 L272.3 444.5 L272.8 443.6 L273.4 442.8 L274.0 442.0 L274.7 441.4 L275.3 440.9 L276.0 440.4 L276.6 440.1 L277.3 439.9 L278.0 439.8 L278.6 439.9 L279.3 440.1 L280.0 440.4 L280.6 440.7 L281.3 441.2 L282.0 441.6 L282.6 442.1 L283.3 442.6 L283.9 443.0 L284.6 443.5 L285.3 443.9 L286.0 444.3 L286.6 444.7 L287.3 445.2 L288.1 445.6 L288.8 446.1 L289.6 446.6 L290.4 447.1 L291.2 447.6 L292.0 448.2 L292.8 448.8 L293.6 449.5 L294.4 450.2 L295.2 450.9 L296.0 451.8 L296.7 452.6 L297.4 453.6 L298.1 454.5 L298.8 455.5 L299.4 456.6 L300.0 457.7 L300.6 458.8 L301.2 459.9 L301.7 461.0 L302.2 462.2 L302.7 463.3 L303.2 464.5 L303.8 465.7 L304.3 466.8 L304.8 468.0 L305.4 469.1 L306.0 470.3 L306.6 471.3 L307.1 472.3 L307.5 472.9 L307.8 473.4 L308.1 473.9 L309.3 476.0" fill="none" stroke="#e4354d" stroke-width="2.3" stroke-linejoin="round" stroke-linecap="round"/>
<text x="274.0" y="496.7" font-size="12.6" text-anchor="middle" fill="#8b8b98">Denver, CO</text>
</g>
<rect x="317.5" y="421.5" width="85" height="85.0" fill="#fff" stroke="#a0a0a0"/>
<line x1="322.5" y1="415.5" x2="322.5" y2="421.5" stroke="#a0a0a0"/>
<line x1="336.5" y1="415.5" x2="336.5" y2="421.5" stroke="#a0a0a0"/>
<line x1="350.5" y1="415.5" x2="350.5" y2="421.5" stroke="#a0a0a0"/>
<line x1="364.5" y1="415.5" x2="364.5" y2="421.5" stroke="#a0a0a0"/>
<line x1="378.5" y1="415.5" x2="378.5" y2="421.5" stroke="#a0a0a0"/>
<line x1="391.5" y1="415.5" x2="391.5" y2="421.5" stroke="#a0a0a0"/>
<text x="321.8" y="409.3" font-size="12.3" text-anchor="middle" fill="#202020">0</text>
<text x="349.4" y="409.3" font-size="12.3" text-anchor="middle" fill="#202020">20</text>
<text x="377.0" y="409.3" font-size="12.3" text-anchor="middle" fill="#202020">40</text>
<g clip-path="url(#pc3)">
<circle cx="323.1" cy="469.0" r="1.6" fill="#d88028"/>
<circle cx="324.4" cy="471.1" r="1.6" fill="#d88028"/>
<circle cx="325.8" cy="464.8" r="1.6" fill="#d88028"/>
<circle cx="327.2" cy="460.5" r="1.6" fill="#d88028"/>
<circle cx="328.6" cy="462.3" r="1.6" fill="#d88028"/>
<circle cx="329.9" cy="460.5" r="1.6" fill="#d88028"/>
<circle cx="331.3" cy="461.3" r="1.6" fill="#d88028"/>
<circle cx="332.7" cy="460.1" r="1.6" fill="#d88028"/>
<circle cx="334.1" cy="461.6" r="1.6" fill="#d88028"/>
<circle cx="335.4" cy="454.8" r="1.6" fill="#d88028"/>
<circle cx="336.8" cy="453.6" r="1.6" fill="#d88028"/>
<circle cx="338.2" cy="455.1" r="1.6" fill="#d88028"/>
<circle cx="339.6" cy="457.7" r="1.6" fill="#d88028"/>
<circle cx="340.9" cy="454.2" r="1.6" fill="#d88028"/>
<circle cx="342.3" cy="448.9" r="1.6" fill="#d88028"/>
<circle cx="343.7" cy="453.0" r="1.6" fill="#d88028"/>
<circle cx="345.1" cy="450.6" r="1.6" fill="#d88028"/>
<circle cx="346.4" cy="449.5" r="1.6" fill="#d88028"/>
<circle cx="347.8" cy="453.9" r="1.6" fill="#d88028"/>
<circle cx="349.2" cy="456.2" r="1.6" fill="#d88028"/>
<circle cx="350.6" cy="450.3" r="1.6" fill="#d88028"/>
<circle cx="351.9" cy="441.6" r="1.6" fill="#d88028"/>
<circle cx="353.3" cy="444.0" r="1.6" fill="#d88028"/>
<circle cx="354.7" cy="445.8" r="1.6" fill="#d88028"/>
<circle cx="356.1" cy="442.8" r="1.6" fill="#d88028"/>
<circle cx="357.4" cy="440.1" r="1.6" fill="#d88028"/>
<circle cx="358.8" cy="438.0" r="1.6" fill="#d88028"/>
<circle cx="360.2" cy="435.0" r="1.6" fill="#d88028"/>
<circle cx="361.6" cy="435.9" r="1.6" fill="#d88028"/>
<circle cx="362.9" cy="442.3" r="1.6" fill="#d88028"/>
<circle cx="364.3" cy="439.9" r="1.6" fill="#d88028"/>
<circle cx="365.7" cy="435.9" r="1.6" fill="#d88028"/>
<circle cx="367.1" cy="434.9" r="1.6" fill="#d88028"/>
<circle cx="368.4" cy="446.0" r="1.6" fill="#d88028"/>
<circle cx="369.8" cy="435.9" r="1.6" fill="#d88028"/>
<circle cx="371.2" cy="440.9" r="1.6" fill="#d88028"/>
<circle cx="372.6" cy="441.2" r="1.6" fill="#d88028"/>
<circle cx="373.9" cy="438.6" r="1.6" fill="#d88028"/>
<circle cx="375.3" cy="442.6" r="1.6" fill="#d88028"/>
<circle cx="376.7" cy="443.9" r="1.6" fill="#d88028"/>
<circle cx="378.1" cy="443.8" r="1.6" fill="#d88028"/>
<circle cx="379.4" cy="448.8" r="1.6" fill="#d88028"/>
<circle cx="380.8" cy="439.8" r="1.6" fill="#d88028"/>
<circle cx="382.2" cy="450.0" r="1.6" fill="#d88028"/>
<circle cx="383.6" cy="453.8" r="1.6" fill="#d88028"/>
<circle cx="384.9" cy="452.1" r="1.6" fill="#d88028"/>
<circle cx="386.3" cy="452.6" r="1.6" fill="#d88028"/>
<circle cx="387.7" cy="464.7" r="1.6" fill="#d88028"/>
<circle cx="389.1" cy="462.5" r="1.6" fill="#d88028"/>
<circle cx="390.4" cy="474.0" r="1.6" fill="#d88028"/>
<circle cx="391.8" cy="468.8" r="1.6" fill="#d88028"/>
<circle cx="393.2" cy="474.9" r="1.6" fill="#d88028"/>
<circle cx="394.6" cy="472.4" r="1.6" fill="#d88028"/>
<path d="M323.7 472.7 L325.3 470.0 L325.7 469.3 L326.1 468.7 L326.5 468.0 L327.2 466.8 L328.0 465.5 L328.8 464.2 L329.7 462.9 L330.5 461.6 L331.4 460.5 L332.2 459.3 L333.0 458.3 L333.8 457.4 L334.6 456.6 L335.4 455.9 L336.2 455.4 L336.9 455.0 L337.7 454.7 L338.4 454.6 L339.0 454.6 L339.7 454.6 L340.4 454.7 L341.1 454.8 L341.7 454.9 L342.4 455.0 L343.1 455.1 L343.7 455.2 L344.4 455.2 L345.1 455.1 L345.7 455.1 L346.3 454.9 L346.9 454.7 L347.5 454.4 L348.0 454.1 L348.5 453.6 L349.0 453.1 L349.5 452.6 L350.0 451.9 L350.5 451.2 L351.0 450.5 L351.4 449.6 L351.9 448.7 L352.4 447.8 L352.9 446.8 L353.4 445.8 L354.0 444.8 L354.6 443.7 L355.2 442.6 L355.9 441.5 L356.7 440.4 L357.5 439.3 L358.3 438.3 L359.1 437.4 L360.0 436.6 L360.8 436.0 L361.5 435.5 L362.3 435.3 L363.0 435.2 L363.7 435.3 L364.4 435.5 L365.1 435.9 L365.7 436.3 L366.4 436.8 L367.0 437.4 L367.6 438.0 L368.3 438.7 L368.9 439.3 L369.6 440.0 L370.3 440.6 L371.0 441.3 L371.7 441.9 L372.4 442.4 L373.2 442.9 L374.0 443.4 L374.8 443.8 L375.7 444.3 L376.5 444.7 L377.3 445.2 L378.1 445.7 L378.9 446.3 L379.6 447.0 L380.3 447.7 L381.0 448.5 L381.7 449.4 L382.4 450.3 L383.0 451.3 L383.7 452.4 L384.3 453.6 L385.0 454.8 L385.7 456.0 L386.4 457.3 L387.0 458.7 L387.7 460.0 L388.4 461.3 L389.0 462.5 L389.7 463.8 L390.4 465.0 L391.0 466.1 L391.6 467.1 L392.2 468.0 L392.5 468.5 L392.8 469.0 L393.1 469.5 L394.3 471.3" fill="none" stroke="#e4354d" stroke-width="2.3" stroke-linejoin="round" stroke-linecap="round"/>
<text x="359.0" y="496.7" font-size="12.6" text-anchor="middle" fill="#8b8b98">Goodwell, OK</text>
</g>
<rect x="402.5" y="421.5" width="85" height="85.0" fill="#fff" stroke="#a0a0a0"/>
<line x1="407.5" y1="415.5" x2="407.5" y2="421.5" stroke="#a0a0a0"/>
<line x1="421.5" y1="415.5" x2="421.5" y2="421.5" stroke="#a0a0a0"/>
<line x1="435.5" y1="415.5" x2="435.5" y2="421.5" stroke="#a0a0a0"/>
<line x1="449.5" y1="415.5" x2="449.5" y2="421.5" stroke="#a0a0a0"/>
<line x1="463.5" y1="415.5" x2="463.5" y2="421.5" stroke="#a0a0a0"/>
<line x1="476.5" y1="415.5" x2="476.5" y2="421.5" stroke="#a0a0a0"/>
<text x="406.8" y="409.3" font-size="12.3" text-anchor="middle" fill="#202020">0</text>
<text x="434.4" y="409.3" font-size="12.3" text-anchor="middle" fill="#202020">20</text>
<text x="462.0" y="409.3" font-size="12.3" text-anchor="middle" fill="#202020">40</text>
<g clip-path="url(#pc4)">
<circle cx="408.1" cy="475.0" r="1.6" fill="#22b48f"/>
<circle cx="409.4" cy="473.4" r="1.6" fill="#22b48f"/>
<circle cx="410.8" cy="473.5" r="1.6" fill="#22b48f"/>
<circle cx="412.2" cy="469.8" r="1.6" fill="#22b48f"/>
<circle cx="413.6" cy="468.1" r="1.6" fill="#22b48f"/>
<circle cx="414.9" cy="468.4" r="1.6" fill="#22b48f"/>
<circle cx="416.3" cy="469.3" r="1.6" fill="#22b48f"/>
<circle cx="417.7" cy="467.5" r="1.6" fill="#22b48f"/>
<circle cx="419.1" cy="462.5" r="1.6" fill="#22b48f"/>
<circle cx="420.4" cy="458.9" r="1.6" fill="#22b48f"/>
<circle cx="421.8" cy="459.4" r="1.6" fill="#22b48f"/>
<circle cx="423.2" cy="462.1" r="1.6" fill="#22b48f"/>
<circle cx="424.6" cy="459.5" r="1.6" fill="#22b48f"/>
<circle cx="425.9" cy="465.1" r="1.6" fill="#22b48f"/>
<circle cx="427.3" cy="459.2" r="1.6" fill="#22b48f"/>
<circle cx="428.7" cy="464.6" r="1.6" fill="#22b48f"/>
<circle cx="430.1" cy="455.8" r="1.6" fill="#22b48f"/>
<circle cx="431.4" cy="457.0" r="1.6" fill="#22b48f"/>
<circle cx="432.8" cy="463.0" r="1.6" fill="#22b48f"/>
<circle cx="434.2" cy="453.5" r="1.6" fill="#22b48f"/>
<circle cx="435.6" cy="451.6" r="1.6" fill="#22b48f"/>
<circle cx="436.9" cy="454.4" r="1.6" fill="#22b48f"/>
<circle cx="438.3" cy="450.7" r="1.6" fill="#22b48f"/>
<circle cx="439.7" cy="445.5" r="1.6" fill="#22b48f"/>
<circle cx="441.1" cy="451.7" r="1.6" fill="#22b48f"/>
<circle cx="442.4" cy="446.4" r="1.6" fill="#22b48f"/>
<circle cx="443.8" cy="442.9" r="1.6" fill="#22b48f"/>
<circle cx="445.2" cy="438.9" r="1.6" fill="#22b48f"/>
<circle cx="446.6" cy="437.9" r="1.6" fill="#22b48f"/>
<circle cx="447.9" cy="444.3" r="1.6" fill="#22b48f"/>
<circle cx="449.3" cy="442.0" r="1.6" fill="#22b48f"/>
<circle cx="450.7" cy="439.2" r="1.6" fill="#22b48f"/>
<circle cx="452.1" cy="445.1" r="1.6" fill="#22b48f"/>
<circle cx="453.4" cy="444.6" r="1.6" fill="#22b48f"/>
<circle cx="454.8" cy="444.3" r="1.6" fill="#22b48f"/>
<circle cx="456.2" cy="444.2" r="1.6" fill="#22b48f"/>
<circle cx="457.6" cy="451.1" r="1.6" fill="#22b48f"/>
<circle cx="458.9" cy="447.1" r="1.6" fill="#22b48f"/>
<circle cx="460.3" cy="449.6" r="1.6" fill="#22b48f"/>
<circle cx="461.7" cy="454.2" r="1.6" fill="#22b48f"/>
<circle cx="463.1" cy="453.1" r="1.6" fill="#22b48f"/>
<circle cx="464.4" cy="453.2" r="1.6" fill="#22b48f"/>
<circle cx="465.8" cy="452.6" r="1.6" fill="#22b48f"/>
<circle cx="467.2" cy="457.3" r="1.6" fill="#22b48f"/>
<circle cx="468.6" cy="455.0" r="1.6" fill="#22b48f"/>
<circle cx="469.9" cy="454.7" r="1.6" fill="#22b48f"/>
<circle cx="471.3" cy="460.6" r="1.6" fill="#22b48f"/>
<circle cx="472.7" cy="465.6" r="1.6" fill="#22b48f"/>
<circle cx="474.1" cy="466.8" r="1.6" fill="#22b48f"/>
<circle cx="475.4" cy="458.2" r="1.6" fill="#22b48f"/>
<circle cx="476.8" cy="472.8" r="1.6" fill="#22b48f"/>
<circle cx="478.2" cy="477.7" r="1.6" fill="#22b48f"/>
<circle cx="479.6" cy="477.5" r="1.6" fill="#22b48f"/>
<path d="M408.7 477.3 L409.8 475.9 L410.1 475.5 L410.4 475.1 L410.8 474.7 L411.3 473.9 L412.0 473.0 L412.7 472.0 L413.4 470.9 L414.2 469.8 L415.0 468.6 L415.8 467.4 L416.6 466.2 L417.4 465.0 L418.3 463.9 L419.1 462.9 L419.9 462.0 L420.6 461.3 L421.3 460.7 L422.0 460.3 L422.7 459.9 L423.4 459.7 L424.0 459.6 L424.7 459.5 L425.3 459.4 L426.0 459.4 L426.7 459.4 L427.3 459.4 L428.0 459.4 L428.7 459.4 L429.4 459.3 L430.0 459.1 L430.7 458.9 L431.4 458.7 L432.1 458.3 L432.7 457.8 L433.4 457.3 L434.1 456.7 L434.7 456.0 L435.3 455.3 L435.9 454.5 L436.4 453.6 L437.0 452.7 L437.5 451.8 L438.0 450.8 L438.5 449.8 L439.0 448.8 L439.6 447.8 L440.1 446.7 L440.7 445.7 L441.4 444.8 L442.0 443.9 L442.6 443.0 L443.3 442.2 L443.9 441.6 L444.5 441.0 L445.1 440.6 L445.7 440.3 L446.2 440.1 L446.7 440.1 L447.2 440.2 L447.8 440.4 L448.3 440.7 L448.9 441.1 L449.5 441.5 L450.2 442.0 L451.0 442.6 L451.7 443.2 L452.6 443.9 L453.4 444.5 L454.2 445.2 L455.1 445.9 L456.0 446.6 L456.8 447.2 L457.7 447.9 L458.6 448.5 L459.4 449.1 L460.2 449.6 L461.0 450.2 L461.8 450.7 L462.6 451.2 L463.3 451.6 L464.0 452.1 L464.7 452.6 L465.4 453.1 L466.1 453.7 L466.7 454.3 L467.4 455.0 L468.0 455.8 L468.7 456.7 L469.3 457.7 L470.0 458.9 L470.6 460.1 L471.3 461.3 L472.0 462.6 L472.7 464.0 L473.4 465.4 L474.2 466.9 L475.0 468.3 L475.7 469.7 L476.5 471.0 L476.9 471.7 L477.3 472.5 L477.7 473.2 L479.3 476.0" fill="none" stroke="#e4354d" stroke-width="2.3" stroke-linejoin="round" stroke-linecap="round"/>
<text x="343" y="496.7" font-size="12.6" fill="#8b8b98" textLength="141.9" lengthAdjust="spacingAndGlyphs">Grand Canyon National</text>
</g>
<line x1="56" y1="427.5" x2="62" y2="427.5" stroke="#a0a0a0"/>
<line x1="56" y1="442.5" x2="62" y2="442.5" stroke="#a0a0a0"/>
<text x="52.5" y="445.8" font-size="12.3" text-anchor="end" fill="#202020">1</text>
<line x1="56" y1="456.5" x2="62" y2="456.5" stroke="#a0a0a0"/>
<line x1="56" y1="470.5" x2="62" y2="470.5" stroke="#a0a0a0"/>
<text x="52.5" y="474.8" font-size="12.3" text-anchor="end" fill="#202020">-1</text>
<line x1="56" y1="485.5" x2="62" y2="485.5" stroke="#a0a0a0"/>
<line x1="56" y1="500.5" x2="62" y2="500.5" stroke="#a0a0a0"/>
<text x="52.5" y="503.8" font-size="12.3" text-anchor="end" fill="#202020">-3</text>
<rect x="526" y="84" width="17" height="424" fill="#f0f0f0"/>
<rect x="526" y="101" width="17" height="241" fill="#cdcdcd"/>
<path d="M532 95.6 L535.3 92.2 L538.6 95.6" fill="none" stroke="#8e8e8e" stroke-width="1.3"/>
<path d="M532 497.8 L535.3 501.2 L538.6 497.8" fill="none" stroke="#8e8e8e" stroke-width="1.3"/>
<text x="554" y="105" font-size="12.6" fill="#202020">Legend</text>
<line x1="554" y1="123" x2="573.6" y2="123" stroke="#e4354d" stroke-width="2.2"/>
<text x="577.3" y="126.6" font-size="12.97" fill="#202020">Prediction</text>
<rect x="719.5" y="92.5" width="356" height="240" fill="#fff" stroke="#a0a0a0"/>
<line x1="716" y1="92.5" x2="719" y2="92.5" stroke="#a0a0a0"/>
<line x1="713" y1="322.5" x2="719" y2="322.5" stroke="#a0a0a0"/>
<text x="709.7" y="326.7" font-size="12.3" text-anchor="end" fill="#202020">450</text>
<line x1="713" y1="257.5" x2="719" y2="257.5" stroke="#a0a0a0"/>
<text x="709.7" y="261.0" font-size="12.3" text-anchor="end" fill="#202020">500</text>
<line x1="713" y1="191.5" x2="719" y2="191.5" stroke="#a0a0a0"/>
<text x="709.7" y="195.3" font-size="12.3" text-anchor="end" fill="#202020">550</text>
<line x1="713" y1="125.5" x2="719" y2="125.5" stroke="#a0a0a0"/>
<text x="709.7" y="129.6" font-size="12.3" text-anchor="end" fill="#202020">600</text>
<line x1="716" y1="290.5" x2="719" y2="290.5" stroke="#a0a0a0"/>
<line x1="716" y1="224.5" x2="719" y2="224.5" stroke="#a0a0a0"/>
<line x1="716" y1="158.5" x2="719" y2="158.5" stroke="#a0a0a0"/>
<line x1="719.5" y1="333" x2="719.5" y2="338.5" stroke="#a0a0a0"/>
<text x="718.4" y="352.7" font-size="12.3" text-anchor="middle" fill="#202020">0</text>
<line x1="807.5" y1="333" x2="807.5" y2="338.5" stroke="#a0a0a0"/>
<text x="805.6" y="352.7" font-size="12.3" text-anchor="middle" fill="#202020">5</text>
<line x1="894.5" y1="333" x2="894.5" y2="338.5" stroke="#a0a0a0"/>
<text x="892.9" y="352.7" font-size="12.3" text-anchor="middle" fill="#202020">10</text>
<line x1="981.5" y1="333" x2="981.5" y2="338.5" stroke="#a0a0a0"/>
<text x="980.1" y="352.7" font-size="12.3" text-anchor="middle" fill="#202020">15</text>
<line x1="1068.5" y1="333" x2="1068.5" y2="338.5" stroke="#a0a0a0"/>
<text x="1067.4" y="352.7" font-size="12.3" text-anchor="middle" fill="#202020">20</text>
<line x1="763.5" y1="333" x2="763.5" y2="335.5" stroke="#a0a0a0"/>
<line x1="850.5" y1="333" x2="850.5" y2="335.5" stroke="#a0a0a0"/>
<line x1="938.5" y1="333" x2="938.5" y2="335.5" stroke="#a0a0a0"/>
<line x1="1025.5" y1="333" x2="1025.5" y2="335.5" stroke="#a0a0a0"/>
<text x="670.2" y="215" font-size="12.5" text-anchor="middle" fill="#202020">BIC</text>
<text x="896.3" y="372" font-size="13.07" text-anchor="middle" fill="#202020">Number of Fourier Pairs</text>
<path d="M736.9 135.9 L771.8 327.2 L806.6 289.8 L841.5 306.7 L876.4 308.5 L911.3 278.2 L946.2 210.9 L981.1 175.0 L1016.0 173.6 L1051.0 135.5 L1068.4 101.8" fill="none" stroke="#000" stroke-width="2.2" stroke-linejoin="round"/>
<line x1="771.75" y1="93" x2="771.75" y2="332" stroke="#e8213a" stroke-width="2" stroke-dasharray="9 8" stroke-dashoffset="7"/>
<path d="M771.75 97.3 L778.35 103.9 L771.75 110.5 L765.15 103.9 Z" fill="#000"/>
<text x="1094.4" y="105.2" font-size="12.6" fill="#202020">Legend</text>
<line x1="1094" y1="122.7" x2="1113.9" y2="122.7" stroke="#000" stroke-width="2.2"/>
<text x="1117.4" y="126.9" font-size="12.85" fill="#202020">Period 53</text>
<rect x="669.5" y="388.5" width="241" height="23" fill="#ebebeb" stroke="#c3c3c3"/>
<path d="M659.3 403.3 L667.5 395.1 L667.5 403.3 Z" fill="#c8c8c8" stroke="#4a4a4a" stroke-width="1.1" stroke-linejoin="round"/>
<text x="673" y="405" font-size="16" font-weight="bold" fill="#000" text-rendering="geometricPrecision" textLength="89.7" lengthAdjust="spacingAndGlyphs">Fit Statistics</text>
<rect x="670" y="415" width="170" height="113.5" fill="#e2e2de"/>
<text x="673.5" y="428.5" font-size="12.9" fill="#1a1a1a">Pairs</text>
<text x="906.2" y="428.5" font-size="12.3" text-anchor="end" fill="#1a1a1a">3</text>
<text x="673.5" y="447.6" font-size="12.9" fill="#1a1a1a">-2 Log Likelihood</text>
<text x="906.2" y="447.6" font-size="12.3" text-anchor="end" fill="#1a1a1a">355.54285</text>
<text x="673.5" y="466.8" font-size="12.9" fill="#1a1a1a">AICc</text>
<text x="906.2" y="466.8" font-size="12.3" text-anchor="end" fill="#1a1a1a">384.22137</text>
<text x="673.5" y="485.9" font-size="12.9" fill="#1a1a1a">BIC</text>
<text x="906.2" y="485.9" font-size="12.3" text-anchor="end" fill="#1a1a1a">445.87154</text>
<text x="673.5" y="505.1" font-size="12.9" fill="#1a1a1a">GCV</text>
<text x="906.2" y="505.1" font-size="12.3" text-anchor="end" fill="#1a1a1a">0.0713964</text>
<text x="673.5" y="524.2" font-size="12.9" fill="#1a1a1a">Transformed TMAX Std Dev</text>
<text x="906.2" y="524.2" font-size="12.3" text-anchor="end" fill="#1a1a1a">0.276974</text>
<rect x="28.5" y="531.5" width="193" height="23" fill="#ebebeb" stroke="#c3c3c3"/>
<path d="M20.4 536.3 L26.4 541.8 L20.4 547.7 Z" fill="#f8f8f8" stroke="#7a7a7a" stroke-width="1.2" stroke-linejoin="round"/>
<text x="32" y="548" font-size="16" font-weight="bold" fill="#000" text-rendering="geometricPrecision" textLength="179.9" lengthAdjust="spacingAndGlyphs">Fourier Diagnostic Plots</text>
<rect x="28.5" y="558.5" width="184" height="23" fill="#ebebeb" stroke="#c3c3c3"/>
<path d="M20.4 563.3 L26.4 568.8 L20.4 574.7 Z" fill="#f8f8f8" stroke="#7a7a7a" stroke-width="1.2" stroke-linejoin="round"/>
<rect x="32.5" y="564.5" width="13" height="11" rx="2.5" fill="#f3f3f3" stroke="#b4b4b4"/>
<path d="M34.6 568 L42.4 568 L38.5 572.2 Z" fill="#d40000"/>
<text x="49" y="575" font-size="16" font-weight="bold" fill="#000" text-rendering="geometricPrecision" textLength="153.3" lengthAdjust="spacingAndGlyphs">Function Summaries</text>
<rect x="28.5" y="585.5" width="214" height="23" fill="#ebebeb" stroke="#c3c3c3"/>
<path d="M20.4 590.3 L26.4 595.8 L20.4 601.7 Z" fill="#f8f8f8" stroke="#7a7a7a" stroke-width="1.2" stroke-linejoin="round"/>
<text x="32" y="602" font-size="16" font-weight="bold" fill="#000" text-rendering="geometricPrecision" textLength="200.9" lengthAdjust="spacingAndGlyphs">Basis Function Coefficients</text>
<rect x="28.5" y="612.5" width="263" height="23" fill="#ebebeb" stroke="#c3c3c3"/>
<path d="M20.4 617.3 L26.4 622.8 L20.4 628.7 Z" fill="#f8f8f8" stroke="#7a7a7a" stroke-width="1.2" stroke-linejoin="round"/>
<text x="32" y="629" font-size="16" font-weight="bold" fill="#000" text-rendering="geometricPrecision" textLength="249.5" lengthAdjust="spacingAndGlyphs">Random Coefficients by Function</text>
<rect x="28.5" y="639.5" width="145" height="23" fill="#ebebeb" stroke="#c3c3c3"/>
<path d="M20.4 644.3 L26.4 649.8 L20.4 655.7 Z" fill="#f8f8f8" stroke="#7a7a7a" stroke-width="1.2" stroke-linejoin="round"/>
<rect x="32.5" y="645.5" width="13" height="11" rx="2.5" fill="#f3f3f3" stroke="#b4b4b4"/>
<path d="M34.6 649 L42.4 649 L38.5 653.2 Z" fill="#d40000"/>
<text x="49" y="656" font-size="16" font-weight="bold" fill="#000" text-rendering="geometricPrecision" textLength="112.3" lengthAdjust="spacingAndGlyphs">Functional PCA</text>
</svg>
</body></html>
